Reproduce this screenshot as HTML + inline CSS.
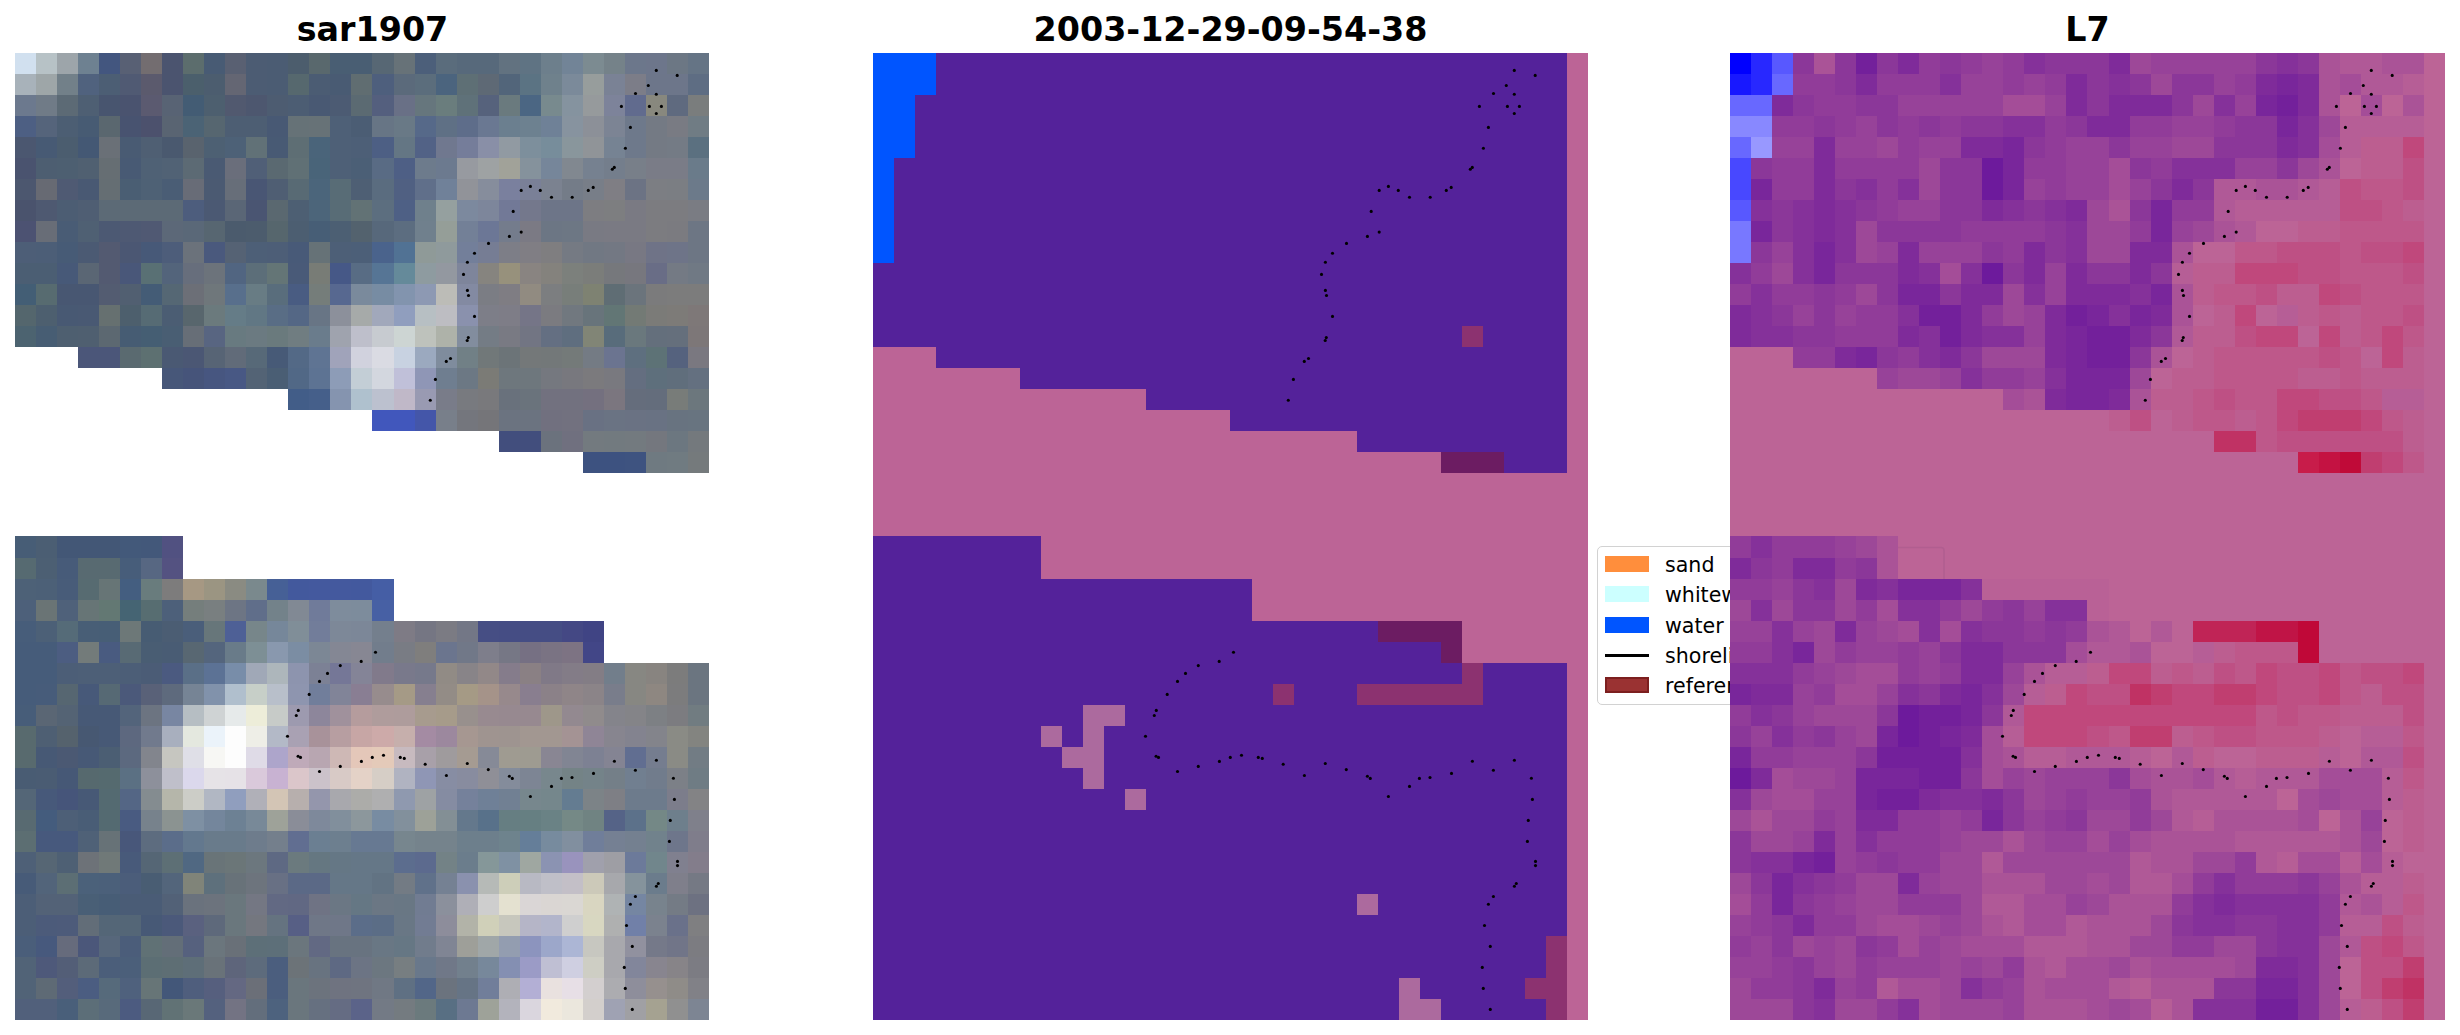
<!DOCTYPE html>
<html><head><meta charset="utf-8"><title>sar1907</title>
<style>
html,body{margin:0;padding:0;background:#fff}
body{width:2460px;height:1035px;position:relative;overflow:hidden;font-family:"DejaVu Sans","Liberation Sans",sans-serif;color:#000}
.ax{position:absolute;display:block}
.t{position:absolute;top:10px;width:715px;text-align:center;font-weight:bold;font-size:33.33px;line-height:40px;white-space:nowrap}
.lg{position:absolute;left:1597.3px;top:546.3px;width:345.5px;height:156.5px;border:1.6px solid #d2d2d2;border-radius:5px;background:#fff;box-sizing:content-box}
.lt{position:absolute;left:1665px;font-size:20.6px;line-height:30px;white-space:nowrap}
.lp{position:absolute;left:1605px;width:44px;height:16px;display:block}
</style></head><body>
<div class="t" style="left:15px">sar1907</div>
<div class="t" style="left:873px">2003-12-29-09-54-38</div>
<div class="t" style="left:1730px">L7</div>
<div class="lg"></div>
<i class="lp" style="top:556px;background:#ff8e3c"></i><div class="lt" style="top:550px">sand</div>
<i class="lp" style="top:586px;background:#ccffff"></i><div class="lt" style="top:580px">whitewater</div>
<i class="lp" style="top:617px;background:#0055ff"></i><div class="lt" style="top:611px">water</div>
<i class="lp" style="top:654px;height:3px;background:#000"></i><div class="lt" style="top:641px">shoreline</div>
<i class="lp" style="top:677px;background:#9a3232;box-sizing:border-box;border:2px solid #7c1f1f"></i><div class="lt" style="top:671px">reference shoreline</div>
<svg class="ax" style="left:15px;top:53px" width="715" height="967" viewBox="0 0 715 967" shape-rendering="crispEdges">
<path fill="#d1e0ef" d="M0 0h21v21H0z"/>
<path fill="#b7c2c6" d="M21 0h21v21H21z"/>
<path fill="#9da5aa" d="M42 0h21v21H42z"/>
<path fill="#6e8191" d="M63 0h21v21H63z"/>
<path fill="#43567f" d="M84 0h21v21H84z"/>
<path fill="#586074" d="M105 0h21v21H105z"/>
<path fill="#736d70" d="M126 0h21v21H126z"/>
<path fill="#4b546f" d="M147 0h21v21H147zM147 21h21v21H147z"/>
<path fill="#5c6d6d" d="M168 0h21v21H168z"/>
<path fill="#485b74" d="M189 0h21v21H189z"/>
<path fill="#596072" d="M210 0h21v21H210z"/>
<path fill="#4c5c73" d="M231 0h21v21H231zM231 21h21v21H231z"/>
<path fill="#4b5c73" d="M252 0h21v21H252zM252 21h21v21H252zM294 21h21v21H294z"/>
<path fill="#4c5d6d" d="M273 0h21v21H273z"/>
<path fill="#59686d" d="M294 0h21v21H294z"/>
<path fill="#495e73" d="M315 0h42v21H315zM147 273h21v21H147z"/>
<path fill="#576774" d="M357 0h22v21H357z"/>
<path fill="#677278" d="M379 0h21v21H379z"/>
<path fill="#4c5f7a" d="M400 0h21v21H400z"/>
<path fill="#5a6c7c" d="M421 0h21v21H421z"/>
<path fill="#57697b" d="M442 0h42v21H442z"/>
<path fill="#627280" d="M484 0h21v21H484z"/>
<path fill="#5f7383" d="M505 0h21v21H505z"/>
<path fill="#6d7f8c" d="M526 0h21v21H526zM442 778h42v21H442z"/>
<path fill="#728497" d="M547 0h21v21H547z"/>
<path fill="#7c8b91" d="M568 0h21v21H568z"/>
<path fill="#758289" d="M589 0h21v21H589z"/>
<path fill="#6c778b" d="M610 0h21v21H610z"/>
<path fill="#6d768b" d="M631 0h21v21H631z"/>
<path fill="#6c7784" d="M652 0h21v21H652z"/>
<path fill="#657485" d="M673 0h21v21H673z"/>
<path fill="#a8b2ba" d="M0 21h21v21H0z"/>
<path fill="#9ea6a8" d="M21 21h21v21H21z"/>
<path fill="#728089" d="M42 21h21v21H42z"/>
<path fill="#50627e" d="M63 21h21v21H63z"/>
<path fill="#4c5e74" d="M84 21h21v21H84z"/>
<path fill="#505a73" d="M105 21h21v21H105z"/>
<path fill="#5b5a6d" d="M126 21h21v21H126z"/>
<path fill="#4b5f6c" d="M168 21h21v21H168z"/>
<path fill="#4c5d6f" d="M189 21h21v21H189z"/>
<path fill="#646673" d="M210 21h21v21H210z"/>
<path fill="#56686e" d="M273 21h21v21H273z"/>
<path fill="#495b73" d="M315 21h21v21H315zM105 84h21v21H105z"/>
<path fill="#606d71" d="M336 21h21v21H336z"/>
<path fill="#4e5f7d" d="M357 21h22v21H357z"/>
<path fill="#5b6a7b" d="M379 21h21v21H379z"/>
<path fill="#5b6d7c" d="M400 21h21v21H400z"/>
<path fill="#4b647e" d="M421 21h21v21H421z"/>
<path fill="#5e6f75" d="M442 21h21v21H442z"/>
<path fill="#5e6975" d="M463 21h21v21H463z"/>
<path fill="#52657a" d="M484 21h21v21H484z"/>
<path fill="#5b7383" d="M505 21h21v21H505z"/>
<path fill="#6f818c" d="M526 21h21v21H526z"/>
<path fill="#7b8a9a" d="M547 21h21v21H547z"/>
<path fill="#979d9c" d="M568 21h21v21H568z"/>
<path fill="#7a8295" d="M589 21h21v21H589z"/>
<path fill="#7c7d88" d="M610 21h21v21H610z"/>
<path fill="#6d768a" d="M631 21h42v21H631z"/>
<path fill="#5e6d83" d="M673 21h21v21H673z"/>
<path fill="#6c798e" d="M0 42h21v21H0z"/>
<path fill="#707b87" d="M21 42h21v21H21z"/>
<path fill="#5c6a75" d="M42 42h21v21H42z"/>
<path fill="#4e5f73" d="M63 42h21v21H63zM21 673h21v21H21z"/>
<path fill="#48556f" d="M84 42h21v21H84z"/>
<path fill="#4a536f" d="M105 42h21v21H105zM0 105h21v21H0z"/>
<path fill="#5b5a70" d="M126 42h21v21H126z"/>
<path fill="#586374" d="M147 42h21v21H147z"/>
<path fill="#435c74" d="M168 42h21v21H168z"/>
<path fill="#4d5f6f" d="M189 42h21v21H189zM21 252h21v21H21z"/>
<path fill="#51596f" d="M210 42h21v21H210z"/>
<path fill="#4d576f" d="M231 42h21v21H231z"/>
<path fill="#4d5c71" d="M252 42h21v21H252z"/>
<path fill="#4c5d73" d="M273 42h21v21H273zM42 147h21v21H42z"/>
<path fill="#495973" d="M294 42h21v21H294zM63 126h21v21H63zM63 252h21v21H63z"/>
<path fill="#4c5b73" d="M315 42h21v21H315z"/>
<path fill="#5b6a72" d="M336 42h21v21H336z"/>
<path fill="#545f7e" d="M357 42h22v21H357z"/>
<path fill="#697086" d="M379 42h21v21H379z"/>
<path fill="#66767d" d="M400 42h21v21H400z"/>
<path fill="#6a7d7d" d="M421 42h21v21H421z"/>
<path fill="#5f7179" d="M442 42h21v21H442z"/>
<path fill="#56627c" d="M463 42h21v21H463z"/>
<path fill="#6a7a7e" d="M484 42h21v21H484z"/>
<path fill="#4b6683" d="M505 42h21v21H505z"/>
<path fill="#788a8e" d="M526 42h21v21H526z"/>
<path fill="#85939f" d="M547 42h21v21H547z"/>
<path fill="#969a9c" d="M568 42h21v21H568z"/>
<path fill="#7d839a" d="M589 42h21v21H589z"/>
<path fill="#616b8e" d="M610 42h21v21H610z"/>
<path fill="#88887e" d="M631 42h21v21H631z"/>
<path fill="#5f6a7f" d="M652 42h21v21H652z"/>
<path fill="#7a7d7d" d="M673 42h21v21H673z"/>
<path fill="#4d5f83" d="M0 63h21v21H0z"/>
<path fill="#55647b" d="M21 63h21v21H21z"/>
<path fill="#4c5e73" d="M42 63h21v21H42z"/>
<path fill="#475b73" d="M63 63h21v21H63z"/>
<path fill="#5a676f" d="M84 63h21v21H84z"/>
<path fill="#485370" d="M105 63h21v21H105z"/>
<path fill="#4c516d" d="M126 63h21v21H126z"/>
<path fill="#596472" d="M147 63h21v21H147z"/>
<path fill="#4b6375" d="M168 63h21v21H168z"/>
<path fill="#566670" d="M189 63h21v21H189z"/>
<path fill="#4d5e73" d="M210 63h42v21H210z"/>
<path fill="#485974" d="M252 63h21v21H252z"/>
<path fill="#667277" d="M273 63h21v21H273zM294 189h21v21H294z"/>
<path fill="#677277" d="M294 63h21v21H294zM84 778h21v21H84z"/>
<path fill="#4e6077" d="M315 63h21v21H315zM315 84h21v21H315zM315 105h21v21H315zM0 799h21v21H0z"/>
<path fill="#4b5d74" d="M336 63h21v21H336z"/>
<path fill="#677585" d="M357 63h22v21H357z"/>
<path fill="#697986" d="M379 63h21v21H379z"/>
<path fill="#566989" d="M400 63h21v21H400z"/>
<path fill="#5f7085" d="M421 63h21v21H421z"/>
<path fill="#5e6d8a" d="M442 63h21v21H442z"/>
<path fill="#6a7892" d="M463 63h21v21H463z"/>
<path fill="#6b7f8f" d="M484 63h21v21H484z"/>
<path fill="#6d8190" d="M505 63h21v21H505z"/>
<path fill="#6f8197" d="M526 63h21v21H526z"/>
<path fill="#87939f" d="M547 63h21v21H547z"/>
<path fill="#8c9098" d="M568 63h21v21H568z"/>
<path fill="#7c8494" d="M589 63h21v21H589z"/>
<path fill="#6e798b" d="M610 63h21v21H610zM610 84h21v21H610z"/>
<path fill="#747a84" d="M631 63h21v21H631zM631 84h21v21H631zM652 210h21v21H652z"/>
<path fill="#797b83" d="M652 63h21v21H652z"/>
<path fill="#707c84" d="M673 63h21v21H673z"/>
<path fill="#4b5770" d="M0 84h21v21H0z"/>
<path fill="#475a74" d="M21 84h21v21H21z"/>
<path fill="#4b5d6f" d="M42 84h21v21H42z"/>
<path fill="#445874" d="M63 84h21v21H63z"/>
<path fill="#6a7077" d="M84 84h21v21H84z"/>
<path fill="#4f5f73" d="M126 84h21v21H126z"/>
<path fill="#4a596f" d="M147 84h21v21H147z"/>
<path fill="#59636e" d="M168 84h21v21H168z"/>
<path fill="#4d6073" d="M189 84h21v21H189z"/>
<path fill="#4d6177" d="M210 84h21v21H210zM0 526h21v21H0z"/>
<path fill="#617177" d="M231 84h21v21H231z"/>
<path fill="#485a74" d="M252 84h21v21H252zM105 105h21v21H105z"/>
<path fill="#5e6e74" d="M273 84h21v21H273zM147 904h21v21H147z"/>
<path fill="#4a647a" d="M294 84h21v21H294z"/>
<path fill="#4d5f77" d="M336 84h21v21H336zM231 189h21v21H231zM315 189h21v21H315zM63 610h42v21H63zM42 757h21v21H42z"/>
<path fill="#4d5f84" d="M357 84h22v21H357z"/>
<path fill="#647684" d="M379 84h21v21H379z"/>
<path fill="#526286" d="M400 84h21v21H400z"/>
<path fill="#70788f" d="M421 84h21v21H421z"/>
<path fill="#757d9a" d="M442 84h21v21H442z"/>
<path fill="#898fa7" d="M463 84h21v21H463z"/>
<path fill="#919aa2" d="M484 84h21v21H484z"/>
<path fill="#7d8f9c" d="M505 84h21v21H505z"/>
<path fill="#778d9b" d="M526 84h21v21H526z"/>
<path fill="#89969c" d="M547 84h21v21H547z"/>
<path fill="#909498" d="M568 84h21v21H568z"/>
<path fill="#768393" d="M589 84h21v21H589z"/>
<path fill="#747b85" d="M652 84h21v21H652zM652 841h21v21H652z"/>
<path fill="#5b7080" d="M673 84h21v21H673z"/>
<path fill="#4d5e71" d="M21 105h21v21H21z"/>
<path fill="#4d5f71" d="M42 105h21v21H42z"/>
<path fill="#506071" d="M63 105h21v21H63z"/>
<path fill="#666e73" d="M84 105h21v21H84z"/>
<path fill="#4f6175" d="M126 105h21v21H126z"/>
<path fill="#516275" d="M147 105h21v21H147z"/>
<path fill="#5c6a74" d="M168 105h21v21H168z"/>
<path fill="#4a5a73" d="M189 105h21v21H189z"/>
<path fill="#6a6e7b" d="M210 105h21v21H210z"/>
<path fill="#505f77" d="M231 105h21v21H231z"/>
<path fill="#5a6971" d="M252 105h21v21H252z"/>
<path fill="#607075" d="M273 105h21v21H273z"/>
<path fill="#496479" d="M294 105h21v21H294z"/>
<path fill="#4b5f76" d="M336 105h21v21H336z"/>
<path fill="#596b84" d="M357 105h22v21H357z"/>
<path fill="#4e5f85" d="M379 105h21v21H379z"/>
<path fill="#6d7b8c" d="M400 105h21v21H400zM610 736h42v21H610z"/>
<path fill="#6c7a8f" d="M421 105h21v21H421z"/>
<path fill="#979aa0" d="M442 105h21v21H442z"/>
<path fill="#9ea2a3" d="M463 105h21v21H463z"/>
<path fill="#a1a299" d="M484 105h21v21H484z"/>
<path fill="#85929c" d="M505 105h21v21H505z"/>
<path fill="#76869a" d="M526 105h21v21H526z"/>
<path fill="#818890" d="M547 105h21v21H547z"/>
<path fill="#768190" d="M568 105h21v21H568z"/>
<path fill="#747e8c" d="M589 105h21v21H589z"/>
<path fill="#787f89" d="M610 105h21v21H610z"/>
<path fill="#7a7c87" d="M631 105h42v21H631z"/>
<path fill="#6a7b8a" d="M673 105h21v21H673z"/>
<path fill="#4c576f" d="M0 126h21v21H0z"/>
<path fill="#676a73" d="M21 126h21v21H21z"/>
<path fill="#4f5a73" d="M42 126h21v21H42z"/>
<path fill="#656e73" d="M84 126h21v21H84z"/>
<path fill="#4a5e73" d="M105 126h21v21H105z"/>
<path fill="#4e6175" d="M126 126h21v21H126z"/>
<path fill="#4a5d75" d="M147 126h21v21H147z"/>
<path fill="#686c77" d="M168 126h21v21H168z"/>
<path fill="#4b5a72" d="M189 126h21v21H189z"/>
<path fill="#676e79" d="M210 126h21v21H210z"/>
<path fill="#495674" d="M231 126h21v21H231z"/>
<path fill="#4f5e73" d="M252 126h21v21H252zM63 147h21v21H63z"/>
<path fill="#586a74" d="M273 126h21v21H273zM105 589h21v21H105z"/>
<path fill="#4b657b" d="M294 126h21v21H294z"/>
<path fill="#586c76" d="M315 126h21v21H315zM315 147h21v21H315z"/>
<path fill="#4e5f74" d="M336 126h21v21H336z"/>
<path fill="#5a6c7f" d="M357 126h22v21H357z"/>
<path fill="#506082" d="M379 126h21v21H379z"/>
<path fill="#606f8a" d="M400 126h21v21H400z"/>
<path fill="#708199" d="M421 126h21v21H421z"/>
<path fill="#919399" d="M442 126h21v21H442z"/>
<path fill="#868d9c" d="M463 126h21v21H463z"/>
<path fill="#7a809e" d="M484 126h21v21H484z"/>
<path fill="#7a8097" d="M505 126h21v21H505z"/>
<path fill="#7b8290" d="M526 126h21v21H526z"/>
<path fill="#747c88" d="M547 126h21v21H547z"/>
<path fill="#787e88" d="M568 126h21v21H568z"/>
<path fill="#7f7e84" d="M589 126h21v21H589z"/>
<path fill="#6c7384" d="M610 126h21v21H610z"/>
<path fill="#7c7e83" d="M631 126h21v21H631z"/>
<path fill="#7b7e83" d="M652 126h21v21H652z"/>
<path fill="#6c7a8a" d="M673 126h21v21H673z"/>
<path fill="#4a536d" d="M0 147h21v21H0z"/>
<path fill="#4e5971" d="M21 147h21v21H21z"/>
<path fill="#5c6a76" d="M84 147h84v21H84z"/>
<path fill="#4d5d7d" d="M168 147h21v21H168z"/>
<path fill="#4b5973" d="M189 147h21v21H189zM42 694h21v21H42z"/>
<path fill="#5a6676" d="M210 147h21v21H210z"/>
<path fill="#4a5572" d="M231 147h21v21H231z"/>
<path fill="#5a6870" d="M252 147h21v21H252z"/>
<path fill="#4d5f73" d="M273 147h21v21H273z"/>
<path fill="#4c657a" d="M294 147h21v21H294z"/>
<path fill="#627275" d="M336 147h21v21H336z"/>
<path fill="#5c6e7f" d="M357 147h22v21H357z"/>
<path fill="#4e6085" d="M379 147h21v21H379z"/>
<path fill="#6f808c" d="M400 147h21v21H400z"/>
<path fill="#95a09f" d="M421 147h21v21H421z"/>
<path fill="#7c899e" d="M442 147h21v21H442z"/>
<path fill="#7d869b" d="M463 147h21v21H463z"/>
<path fill="#727997" d="M484 147h21v21H484z"/>
<path fill="#74788c" d="M505 147h21v21H505z"/>
<path fill="#6d7588" d="M526 147h42v21H526z"/>
<path fill="#7d7d81" d="M568 147h21v21H568z"/>
<path fill="#7d7e80" d="M589 147h21v21H589z"/>
<path fill="#7a7a83" d="M610 147h21v21H610zM589 168h42v21H589z"/>
<path fill="#7c7c80" d="M631 147h42v21H631zM631 168h21v21H631zM652 652h21v21H652z"/>
<path fill="#7a7c83" d="M673 147h21v21H673z"/>
<path fill="#4c5272" d="M0 168h21v21H0z"/>
<path fill="#686d77" d="M21 168h21v21H21z"/>
<path fill="#495c75" d="M42 168h21v21H42z"/>
<path fill="#4f6073" d="M63 168h21v21H63z"/>
<path fill="#4c5973" d="M84 168h21v21H84z"/>
<path fill="#4e5973" d="M105 168h21v21H105z"/>
<path fill="#505973" d="M126 168h21v21H126z"/>
<path fill="#5c6878" d="M147 168h21v21H147z"/>
<path fill="#5a6878" d="M168 168h21v21H168z"/>
<path fill="#576671" d="M189 168h21v21H189z"/>
<path fill="#4b5b6d" d="M210 168h21v21H210z"/>
<path fill="#4c5c6d" d="M231 168h21v21H231z"/>
<path fill="#56666d" d="M252 168h21v21H252z"/>
<path fill="#4c5e71" d="M273 168h21v21H273z"/>
<path fill="#475e76" d="M294 168h21v21H294zM84 568h21v21H84z"/>
<path fill="#4c5f73" d="M315 168h21v21H315zM21 505h21v21H21z"/>
<path fill="#53626e" d="M336 168h21v21H336z"/>
<path fill="#57687b" d="M357 168h22v21H357z"/>
<path fill="#5c6d80" d="M379 168h21v21H379z"/>
<path fill="#70808d" d="M400 168h21v21H400z"/>
<path fill="#959e98" d="M421 168h21v21H421z"/>
<path fill="#738097" d="M442 168h21v21H442z"/>
<path fill="#6c7796" d="M463 168h21v21H463z"/>
<path fill="#747c8c" d="M484 168h21v21H484z"/>
<path fill="#7b7a84" d="M505 168h21v21H505z"/>
<path fill="#6c7684" d="M526 168h21v21H526z"/>
<path fill="#6d7784" d="M547 168h21v21H547z"/>
<path fill="#797a83" d="M568 168h21v21H568zM484 273h21v21H484z"/>
<path fill="#7b7b80" d="M652 168h21v21H652zM526 252h21v21H526z"/>
<path fill="#6d7684" d="M673 168h21v21H673zM673 189h21v21H673z"/>
<path fill="#4d5e77" d="M0 189h21v21H0zM252 189h21v21H252z"/>
<path fill="#4c5e77" d="M21 189h21v21H21zM42 610h21v21H42zM105 610h21v21H105zM0 841h21v21H0zM0 862h21v21H0z"/>
<path fill="#475b76" d="M42 189h21v21H42z"/>
<path fill="#4b5a73" d="M63 189h21v21H63z"/>
<path fill="#535a71" d="M84 189h21v21H84zM84 210h21v21H84z"/>
<path fill="#4b5773" d="M105 189h21v21H105z"/>
<path fill="#475978" d="M126 189h21v21H126zM42 210h21v21H42z"/>
<path fill="#4d5d7a" d="M147 189h21v21H147z"/>
<path fill="#6b727b" d="M168 189h21v21H168z"/>
<path fill="#4a597d" d="M189 189h21v21H189z"/>
<path fill="#556274" d="M210 189h21v21H210z"/>
<path fill="#485a78" d="M273 189h21v21H273z"/>
<path fill="#4c5f78" d="M336 189h21v21H336z"/>
<path fill="#4a638c" d="M357 189h22v21H357z"/>
<path fill="#517294" d="M379 189h21v21H379z"/>
<path fill="#8f9a98" d="M400 189h21v21H400z"/>
<path fill="#8f9a9c" d="M421 189h21v21H421z"/>
<path fill="#737f9a" d="M442 189h21v21H442z"/>
<path fill="#767d94" d="M463 189h21v21H463z"/>
<path fill="#7d7e87" d="M484 189h21v21H484z"/>
<path fill="#807e84" d="M505 189h21v21H505z"/>
<path fill="#7f7e80" d="M526 189h21v21H526z"/>
<path fill="#757a83" d="M547 189h21v21H547z"/>
<path fill="#717883" d="M568 189h21v21H568z"/>
<path fill="#737883" d="M589 189h21v21H589z"/>
<path fill="#787883" d="M610 189h21v21H610z"/>
<path fill="#6f7387" d="M631 189h21v21H631z"/>
<path fill="#6e7488" d="M652 189h21v21H652z"/>
<path fill="#4b5e73" d="M0 210h42v21H0zM21 483h21v22H21zM84 694h21v21H84z"/>
<path fill="#5a6674" d="M63 210h21v21H63zM21 652h21v21H21z"/>
<path fill="#495779" d="M105 210h21v21H105z"/>
<path fill="#597074" d="M126 210h21v21H126z"/>
<path fill="#53647b" d="M147 210h21v21H147zM105 652h21v21H105z"/>
<path fill="#676e7c" d="M168 210h21v21H168z"/>
<path fill="#6c737b" d="M189 210h21v21H189z"/>
<path fill="#516581" d="M210 210h21v21H210z"/>
<path fill="#5c6e79" d="M231 210h21v21H231z"/>
<path fill="#647576" d="M252 210h21v21H252z"/>
<path fill="#495a78" d="M273 210h21v21H273z"/>
<path fill="#787c76" d="M294 210h21v21H294z"/>
<path fill="#465887" d="M315 210h21v21H315z"/>
<path fill="#586c84" d="M336 210h21v21H336z"/>
<path fill="#567595" d="M357 210h22v21H357z"/>
<path fill="#658a9a" d="M379 210h21v21H379z"/>
<path fill="#8e9ba0" d="M400 210h21v21H400z"/>
<path fill="#9398a0" d="M421 210h21v21H421z"/>
<path fill="#7e859b" d="M442 210h21v21H442z"/>
<path fill="#86847f" d="M463 210h21v21H463z"/>
<path fill="#97917c" d="M484 210h21v21H484z"/>
<path fill="#898481" d="M505 210h21v21H505z"/>
<path fill="#84827d" d="M526 210h21v21H526z"/>
<path fill="#7c807c" d="M547 210h21v21H547z"/>
<path fill="#7b7d7a" d="M568 210h21v21H568z"/>
<path fill="#76787c" d="M589 210h21v21H589z"/>
<path fill="#77777e" d="M610 210h21v21H610z"/>
<path fill="#696d86" d="M631 210h21v21H631z"/>
<path fill="#707984" d="M673 210h21v21H673z"/>
<path fill="#435e75" d="M0 231h21v21H0z"/>
<path fill="#576b70" d="M21 231h21v21H21z"/>
<path fill="#485772" d="M42 231h42v21H42z"/>
<path fill="#535c71" d="M84 231h21v21H84z"/>
<path fill="#515f71" d="M105 231h21v21H105z"/>
<path fill="#445c76" d="M126 231h21v21H126z"/>
<path fill="#556774" d="M147 231h21v21H147z"/>
<path fill="#6c6f77" d="M168 231h21v21H168z"/>
<path fill="#6f777b" d="M189 231h21v21H189z"/>
<path fill="#586f8c" d="M210 231h21v21H210z"/>
<path fill="#687c84" d="M231 231h21v21H231z"/>
<path fill="#596d7c" d="M252 231h21v21H252z"/>
<path fill="#495c82" d="M273 231h21v21H273z"/>
<path fill="#757d7a" d="M294 231h21v21H294z"/>
<path fill="#576890" d="M315 231h21v21H315z"/>
<path fill="#7a8a9c" d="M336 231h21v21H336z"/>
<path fill="#778ca3" d="M357 231h22v21H357z"/>
<path fill="#8294ae" d="M379 231h21v21H379z"/>
<path fill="#8d99b3" d="M400 231h21v21H400z"/>
<path fill="#bcbcb7" d="M421 231h21v21H421z"/>
<path fill="#838aa2" d="M442 231h21v21H442z"/>
<path fill="#7b7d84" d="M463 231h21v21H463z"/>
<path fill="#7f7d83" d="M484 231h21v21H484z"/>
<path fill="#918b81" d="M505 231h21v21H505z"/>
<path fill="#7c7e80" d="M526 231h21v21H526z"/>
<path fill="#787e7a" d="M547 231h21v21H547z"/>
<path fill="#7e8272" d="M568 231h21v21H568z"/>
<path fill="#5f6d74" d="M589 231h21v21H589z"/>
<path fill="#6b747c" d="M610 231h21v21H610z"/>
<path fill="#7b7b7c" d="M631 231h21v21H631z"/>
<path fill="#7c7c7c" d="M652 231h42v21H652zM652 610h21v21H652z"/>
<path fill="#54666d" d="M0 252h21v21H0z"/>
<path fill="#485973" d="M42 252h21v21H42z"/>
<path fill="#667070" d="M84 252h21v21H84z"/>
<path fill="#4d5f6d" d="M105 252h21v21H105z"/>
<path fill="#566b74" d="M126 252h21v21H126z"/>
<path fill="#4b5d73" d="M147 252h21v21H147zM147 568h21v21H147z"/>
<path fill="#58666d" d="M168 252h21v21H168z"/>
<path fill="#6b7a7d" d="M189 252h21v21H189zM400 946h21v21H400z"/>
<path fill="#657c87" d="M210 252h21v21H210z"/>
<path fill="#617784" d="M231 252h21v21H231z"/>
<path fill="#596d85" d="M252 252h21v21H252z"/>
<path fill="#546785" d="M273 252h21v21H273z"/>
<path fill="#687585" d="M294 252h21v21H294z"/>
<path fill="#8c909b" d="M315 252h21v21H315z"/>
<path fill="#a6aaa9" d="M336 252h21v21H336z"/>
<path fill="#a1a8bb" d="M357 252h22v21H357z"/>
<path fill="#909ebe" d="M379 252h21v21H379zM210 736h21v21H210z"/>
<path fill="#b7bfc3" d="M400 252h21v21H400z"/>
<path fill="#bdbdc2" d="M421 252h21v21H421z"/>
<path fill="#8a91ad" d="M442 252h21v21H442z"/>
<path fill="#7d7e88" d="M463 252h21v21H463z"/>
<path fill="#7e7d87" d="M484 252h21v21H484z"/>
<path fill="#757587" d="M505 252h21v21H505z"/>
<path fill="#71787f" d="M547 252h21v21H547z"/>
<path fill="#68747b" d="M568 252h21v21H568z"/>
<path fill="#627675" d="M589 252h21v21H589z"/>
<path fill="#737a75" d="M610 252h21v21H610z"/>
<path fill="#7b7b78" d="M631 252h21v21H631z"/>
<path fill="#7d7b78" d="M652 252h21v21H652z"/>
<path fill="#7e7878" d="M673 252h21v21H673z"/>
<path fill="#4c6370" d="M0 273h21v21H0z"/>
<path fill="#475d73" d="M21 273h21v21H21z"/>
<path fill="#4e5f70" d="M42 273h21v21H42z"/>
<path fill="#4f5f70" d="M63 273h21v21H63z"/>
<path fill="#5c6871" d="M84 273h21v21H84z"/>
<path fill="#465c73" d="M105 273h21v21H105z"/>
<path fill="#455e73" d="M126 273h21v21H126z"/>
<path fill="#676e77" d="M168 273h21v21H168z"/>
<path fill="#586581" d="M189 273h21v21H189z"/>
<path fill="#687a80" d="M210 273h21v21H210z"/>
<path fill="#6b7a81" d="M231 273h21v21H231z"/>
<path fill="#6a7a7d" d="M252 273h21v21H252z"/>
<path fill="#707d81" d="M273 273h21v21H273z"/>
<path fill="#6a7c8c" d="M294 273h21v21H294z"/>
<path fill="#9fa3ae" d="M315 273h21v21H315z"/>
<path fill="#bebfcb" d="M336 273h21v21H336z"/>
<path fill="#c7cbd0" d="M357 273h22v21H357z"/>
<path fill="#cdd5d3" d="M379 273h21v21H379z"/>
<path fill="#bec2bc" d="M400 273h21v21H400z"/>
<path fill="#aeb2a9" d="M421 273h21v21H421z"/>
<path fill="#828d9e" d="M442 273h21v21H442z"/>
<path fill="#747c85" d="M463 273h21v21H463z"/>
<path fill="#727583" d="M505 273h21v21H505z"/>
<path fill="#646f82" d="M526 273h21v21H526z"/>
<path fill="#5f6e7f" d="M547 273h21v21H547z"/>
<path fill="#818576" d="M568 273h21v21H568z"/>
<path fill="#586c7b" d="M589 273h21v21H589z"/>
<path fill="#6a787d" d="M610 273h21v21H610z"/>
<path fill="#646f7c" d="M631 273h21v21H631z"/>
<path fill="#656f7c" d="M652 273h21v21H652z"/>
<path fill="#7d7778" d="M673 273h21v21H673z"/>
<path fill="#4b5679" d="M63 294h42v21H63z"/>
<path fill="#5a6a70" d="M105 294h21v21H105z"/>
<path fill="#5d7071" d="M126 294h21v21H126z"/>
<path fill="#4a5973" d="M147 294h21v21H147z"/>
<path fill="#4b5774" d="M168 294h21v21H168z"/>
<path fill="#576475" d="M189 294h21v21H189z"/>
<path fill="#616b79" d="M210 294h21v21H210z"/>
<path fill="#576978" d="M231 294h21v21H231z"/>
<path fill="#475a77" d="M252 294h21v21H252z"/>
<path fill="#536986" d="M273 294h21v21H273z"/>
<path fill="#5f7493" d="M294 294h21v21H294z"/>
<path fill="#a0a3ba" d="M315 294h21v21H315z"/>
<path fill="#d1d2de" d="M336 294h21v21H336z"/>
<path fill="#dadbe3" d="M357 294h22v21H357z"/>
<path fill="#c8d2e1" d="M379 294h21v21H379z"/>
<path fill="#9ba9bf" d="M400 294h21v21H400z"/>
<path fill="#7f8c9d" d="M421 294h21v21H421z"/>
<path fill="#718086" d="M442 294h21v21H442z"/>
<path fill="#717879" d="M463 294h21v21H463z"/>
<path fill="#6c7478" d="M484 294h21v21H484z"/>
<path fill="#747879" d="M505 294h21v21H505z"/>
<path fill="#737879" d="M526 294h21v21H526z"/>
<path fill="#747a79" d="M547 294h21v21H547z"/>
<path fill="#747b84" d="M568 294h21v21H568z"/>
<path fill="#6b7490" d="M589 294h21v21H589z"/>
<path fill="#5e6f7f" d="M610 294h21v21H610z"/>
<path fill="#5d7276" d="M631 294h21v21H631z"/>
<path fill="#55627e" d="M652 294h21v21H652z"/>
<path fill="#7a7880" d="M673 294h21v21H673z"/>
<path fill="#475779" d="M147 315h21v21H147z"/>
<path fill="#46547a" d="M168 315h21v21H168z"/>
<path fill="#475680" d="M189 315h21v21H189z"/>
<path fill="#485884" d="M210 315h21v21H210z"/>
<path fill="#536375" d="M231 315h21v21H231z"/>
<path fill="#4a5e74" d="M252 315h21v21H252z"/>
<path fill="#516886" d="M273 315h21v21H273z"/>
<path fill="#5d7393" d="M294 315h21v21H294z"/>
<path fill="#8d9cb7" d="M315 315h21v21H315z"/>
<path fill="#c3ced6" d="M336 315h21v21H336z"/>
<path fill="#d3d7df" d="M357 315h22v21H357z"/>
<path fill="#c0c0d9" d="M379 315h21v21H379z"/>
<path fill="#8f96b6" d="M400 315h21v21H400z"/>
<path fill="#6f7e90" d="M421 315h21v21H421z"/>
<path fill="#6c7884" d="M442 315h21v21H442z"/>
<path fill="#7b7b76" d="M463 315h21v21H463z"/>
<path fill="#6e777d" d="M484 315h42v21H484z"/>
<path fill="#75787f" d="M526 315h21v21H526z"/>
<path fill="#78787e" d="M547 315h21v21H547z"/>
<path fill="#7b7a7d" d="M568 315h21v21H568z"/>
<path fill="#79797f" d="M589 315h21v21H589z"/>
<path fill="#646e80" d="M610 315h21v21H610z"/>
<path fill="#5e6f7c" d="M631 315h21v21H631z"/>
<path fill="#606e7c" d="M652 315h21v21H652z"/>
<path fill="#647080" d="M673 315h21v21H673z"/>
<path fill="#425d88" d="M273 336h21v21H273z"/>
<path fill="#455f8a" d="M294 336h21v21H294z"/>
<path fill="#8594af" d="M315 336h21v21H315z"/>
<path fill="#afc1ce" d="M336 336h21v21H336z"/>
<path fill="#bcc1cf" d="M357 336h22v21H357z"/>
<path fill="#c0b8c8" d="M379 336h21v21H379z"/>
<path fill="#999ab2" d="M400 336h21v21H400z"/>
<path fill="#797c89" d="M421 336h21v21H421z"/>
<path fill="#787a7f" d="M442 336h21v21H442z"/>
<path fill="#79797c" d="M463 336h21v21H463z"/>
<path fill="#69717c" d="M484 336h21v21H484z"/>
<path fill="#6a737c" d="M505 336h21v21H505z"/>
<path fill="#72717f" d="M526 336h42v21H526zM547 357h21v21H547z"/>
<path fill="#74707f" d="M568 336h21v21H568z"/>
<path fill="#7b767f" d="M589 336h21v21H589z"/>
<path fill="#656d7c" d="M610 336h21v21H610z"/>
<path fill="#646d7c" d="M631 336h21v21H631z"/>
<path fill="#787c79" d="M652 336h21v21H652z"/>
<path fill="#6c777d" d="M673 336h21v21H673z"/>
<path fill="#4157bc" d="M357 357h43v21H357z"/>
<path fill="#4456a9" d="M400 357h21v21H400z"/>
<path fill="#787f8a" d="M421 357h21v21H421z"/>
<path fill="#74767d" d="M442 357h21v21H442z"/>
<path fill="#757579" d="M463 357h21v21H463z"/>
<path fill="#6b7380" d="M484 357h42v21H484z"/>
<path fill="#71707f" d="M526 357h21v21H526z"/>
<path fill="#697183" d="M568 357h21v21H568z"/>
<path fill="#6a7383" d="M589 357h21v21H589z"/>
<path fill="#6a7283" d="M610 357h21v21H610z"/>
<path fill="#697283" d="M631 357h21v21H631z"/>
<path fill="#687380" d="M652 357h21v21H652zM315 883h42v21H315zM294 904h21v21H294z"/>
<path fill="#687480" d="M673 357h21v21H673z"/>
<path fill="#424e7d" d="M484 378h42v21H484z"/>
<path fill="#6b727d" d="M526 378h21v21H526z"/>
<path fill="#70707f" d="M547 378h21v21H547z"/>
<path fill="#737a7f" d="M568 378h21v21H568zM610 378h21v21H610z"/>
<path fill="#727a7f" d="M589 378h21v21H589z"/>
<path fill="#74777e" d="M631 378h21v21H631z"/>
<path fill="#6c7780" d="M652 378h21v21H652zM357 904h22v21H357z"/>
<path fill="#74797d" d="M673 378h21v21H673z"/>
<path fill="#3d5280" d="M568 399h42v21H568z"/>
<path fill="#3e5380" d="M610 399h21v21H610z"/>
<path fill="#6f7a81" d="M631 399h21v21H631z"/>
<path fill="#707b81" d="M652 399h21v21H652z"/>
<path fill="#757a7c" d="M673 399h21v21H673z"/>
<path fill="#475d76" d="M0 483h21v22H0zM84 841h21v21H84z"/>
<path fill="#435776" d="M42 483h63v22H42z"/>
<path fill="#43597a" d="M105 483h21v22H105z"/>
<path fill="#43587a" d="M126 483h21v22H126z"/>
<path fill="#515181" d="M147 483h21v22H147z"/>
<path fill="#566a71" d="M0 505h21v21H0z"/>
<path fill="#475b79" d="M42 505h21v21H42z"/>
<path fill="#586a71" d="M63 505h42v21H63zM0 757h21v21H0z"/>
<path fill="#475d7a" d="M105 505h21v21H105zM0 568h21v21H0z"/>
<path fill="#576782" d="M126 505h21v21H126z"/>
<path fill="#545281" d="M147 505h21v21H147z"/>
<path fill="#4c6077" d="M21 526h21v21H21zM21 568h21v21H21z"/>
<path fill="#485c79" d="M42 526h21v21H42z"/>
<path fill="#576b71" d="M63 526h21v21H63z"/>
<path fill="#677576" d="M84 526h21v21H84zM63 547h21v21H63z"/>
<path fill="#445e80" d="M105 526h21v21H105z"/>
<path fill="#697c7d" d="M126 526h21v21H126z"/>
<path fill="#7d7c7c" d="M147 526h21v21H147z"/>
<path fill="#a69883" d="M168 526h21v21H168z"/>
<path fill="#9b9582" d="M189 526h21v21H189z"/>
<path fill="#8a8b82" d="M210 526h21v21H210z"/>
<path fill="#7a898d" d="M231 526h21v21H231z"/>
<path fill="#466096" d="M252 526h21v21H252z"/>
<path fill="#43599d" d="M273 526h21v21H273z"/>
<path fill="#44599e" d="M294 526h42v21H294z"/>
<path fill="#43599e" d="M336 526h21v21H336z"/>
<path fill="#455ea5" d="M357 526h22v21H357z"/>
<path fill="#4d607a" d="M0 547h21v21H0zM147 547h21v21H147z"/>
<path fill="#6a7475" d="M21 547h21v21H21z"/>
<path fill="#4f617a" d="M42 547h21v21H42z"/>
<path fill="#637873" d="M84 547h21v21H84z"/>
<path fill="#456473" d="M105 547h21v21H105z"/>
<path fill="#576d71" d="M126 547h21v21H126z"/>
<path fill="#757e7c" d="M168 547h21v21H168z"/>
<path fill="#797f80" d="M189 547h21v21H189z"/>
<path fill="#6d7584" d="M210 547h21v21H210z"/>
<path fill="#606e8a" d="M231 547h21v21H231z"/>
<path fill="#73828a" d="M252 547h21v21H252z"/>
<path fill="#818994" d="M273 547h21v21H273z"/>
<path fill="#707b9a" d="M294 547h21v21H294z"/>
<path fill="#7e8c9c" d="M315 547h21v21H315z"/>
<path fill="#7d8c9c" d="M336 547h21v21H336z"/>
<path fill="#4760a4" d="M357 547h22v21H357z"/>
<path fill="#556b78" d="M42 568h21v21H42z"/>
<path fill="#485e76" d="M63 568h21v21H63z"/>
<path fill="#6d7878" d="M105 568h21v21H105z"/>
<path fill="#475c73" d="M126 568h21v21H126z"/>
<path fill="#4a5e7a" d="M168 568h21v21H168zM0 883h21v21H0z"/>
<path fill="#67767a" d="M189 568h21v21H189z"/>
<path fill="#4e6096" d="M210 568h21v21H210z"/>
<path fill="#77868a" d="M231 568h21v21H231z"/>
<path fill="#76879a" d="M252 568h21v21H252z"/>
<path fill="#808e98" d="M273 568h21v21H273z"/>
<path fill="#727d9a" d="M294 568h21v21H294z"/>
<path fill="#7d8898" d="M315 568h21v21H315z"/>
<path fill="#7c8798" d="M336 568h21v21H336z"/>
<path fill="#747f8d" d="M357 568h22v21H357z"/>
<path fill="#7e7b85" d="M379 568h21v21H379z"/>
<path fill="#757683" d="M400 568h21v21H400z"/>
<path fill="#7b7b83" d="M421 568h21v21H421z"/>
<path fill="#737786" d="M442 568h21v21H442z"/>
<path fill="#464e84" d="M463 568h21v21H463z"/>
<path fill="#454d84" d="M484 568h63v21H484z"/>
<path fill="#444884" d="M547 568h21v21H547z"/>
<path fill="#404484" d="M568 568h21v21H568z"/>
<path fill="#465c7a" d="M0 589h42v21H0zM0 610h42v21H0zM0 631h21v21H0z"/>
<path fill="#4c5d81" d="M42 589h21v21H42z"/>
<path fill="#737b7a" d="M63 589h21v21H63z"/>
<path fill="#495b80" d="M84 589h21v21H84z"/>
<path fill="#495d73" d="M126 589h21v21H126zM126 820h21v21H126z"/>
<path fill="#495c74" d="M147 589h21v21H147z"/>
<path fill="#586772" d="M168 589h21v21H168z"/>
<path fill="#54657d" d="M189 589h21v21H189z"/>
<path fill="#697b89" d="M210 589h21v21H210z"/>
<path fill="#7d8f95" d="M231 589h21v21H231z"/>
<path fill="#8998ae" d="M252 589h21v21H252z"/>
<path fill="#7b8da3" d="M273 589h21v21H273z"/>
<path fill="#7c8795" d="M294 589h21v21H294z"/>
<path fill="#848794" d="M315 589h21v21H315z"/>
<path fill="#878793" d="M336 589h21v21H336z"/>
<path fill="#727d8c" d="M357 589h22v21H357z"/>
<path fill="#797c84" d="M379 589h21v21H379z"/>
<path fill="#7f7e7d" d="M400 589h21v21H400z"/>
<path fill="#6b758e" d="M421 589h21v21H421z"/>
<path fill="#717888" d="M442 589h21v21H442z"/>
<path fill="#7e7e8b" d="M463 589h21v21H463z"/>
<path fill="#767785" d="M484 589h21v21H484z"/>
<path fill="#767083" d="M505 589h21v21H505z"/>
<path fill="#7a7383" d="M526 589h21v21H526z"/>
<path fill="#7d7383" d="M547 589h21v21H547z"/>
<path fill="#424687" d="M568 589h21v21H568z"/>
<path fill="#4b5c76" d="M126 610h21v21H126z"/>
<path fill="#4b5a80" d="M147 610h21v21H147z"/>
<path fill="#5a6f87" d="M168 610h21v21H168z"/>
<path fill="#5c7295" d="M189 610h21v21H189z"/>
<path fill="#788da9" d="M210 610h21v21H210z"/>
<path fill="#a0a8b7" d="M231 610h21v21H231z"/>
<path fill="#adb6bb" d="M252 610h21v21H252z"/>
<path fill="#8d94ae" d="M273 610h21v21H273z"/>
<path fill="#7c8195" d="M294 610h21v21H294z"/>
<path fill="#757797" d="M315 610h21v21H315z"/>
<path fill="#848497" d="M336 610h21v21H336z"/>
<path fill="#817a8b" d="M357 610h22v21H357z"/>
<path fill="#79798b" d="M379 610h21v21H379z"/>
<path fill="#76798b" d="M400 610h21v21H400z"/>
<path fill="#918b85" d="M421 610h21v21H421z"/>
<path fill="#888488" d="M442 610h21v21H442z"/>
<path fill="#928888" d="M463 610h21v21H463z"/>
<path fill="#857c8b" d="M484 610h21v21H484z"/>
<path fill="#8a8084" d="M505 610h21v21H505z"/>
<path fill="#807987" d="M526 610h21v21H526z"/>
<path fill="#837c87" d="M547 610h21v21H547z"/>
<path fill="#837d85" d="M568 610h21v21H568z"/>
<path fill="#727e8b" d="M589 610h21v21H589z"/>
<path fill="#878782" d="M610 610h21v21H610zM610 631h21v21H610z"/>
<path fill="#888480" d="M631 610h21v21H631z"/>
<path fill="#6b7580" d="M673 610h21v21H673zM673 631h21v21H673z"/>
<path fill="#475c7a" d="M21 631h21v21H21z"/>
<path fill="#566671" d="M42 631h21v21H42z"/>
<path fill="#475979" d="M63 631h21v21H63z"/>
<path fill="#566974" d="M84 631h21v21H84z"/>
<path fill="#4b597a" d="M105 631h21v21H105zM147 862h21v21H147z"/>
<path fill="#596178" d="M126 631h21v21H126z"/>
<path fill="#5e6a7d" d="M147 631h21v21H147z"/>
<path fill="#768495" d="M168 631h21v21H168z"/>
<path fill="#8192ab" d="M189 631h21v21H189z"/>
<path fill="#b0bfcd" d="M210 631h21v21H210z"/>
<path fill="#c7cfc8" d="M231 631h21v21H231z"/>
<path fill="#b8bfca" d="M252 631h21v21H252z"/>
<path fill="#8e95af" d="M273 631h21v21H273z"/>
<path fill="#717e9b" d="M294 631h21v21H294z"/>
<path fill="#818498" d="M315 631h21v21H315z"/>
<path fill="#897e93" d="M336 631h21v21H336z"/>
<path fill="#978c8d" d="M357 631h22v21H357z"/>
<path fill="#a59a86" d="M379 631h21v21H379z"/>
<path fill="#867f8f" d="M400 631h21v21H400z"/>
<path fill="#938c86" d="M421 631h21v21H421z"/>
<path fill="#a59a85" d="M442 631h21v21H442z"/>
<path fill="#a59389" d="M463 631h21v21H463z"/>
<path fill="#97898c" d="M484 631h21v21H484z"/>
<path fill="#897e8f" d="M505 631h21v21H505z"/>
<path fill="#8b8188" d="M526 631h21v21H526z"/>
<path fill="#8f8588" d="M547 631h21v21H547z"/>
<path fill="#8b8488" d="M568 631h21v21H568z"/>
<path fill="#797d8b" d="M589 631h21v21H589z"/>
<path fill="#8e8781" d="M631 631h21v21H631z"/>
<path fill="#7c7c7d" d="M652 631h21v21H652z"/>
<path fill="#475d79" d="M0 652h21v21H0z"/>
<path fill="#546374" d="M42 652h21v21H42z"/>
<path fill="#475976" d="M63 652h42v21H63zM84 673h21v21H84zM63 694h21v21H63zM63 736h21v21H63zM126 862h21v21H126z"/>
<path fill="#6c7481" d="M126 652h21v21H126z"/>
<path fill="#7886a2" d="M147 652h21v21H147z"/>
<path fill="#b6bec3" d="M168 652h21v21H168z"/>
<path fill="#cfd3d4" d="M189 652h21v21H189z"/>
<path fill="#e6eaea" d="M210 652h21v21H210z"/>
<path fill="#ededd9" d="M231 652h21v21H231z"/>
<path fill="#c7cbc8" d="M252 652h21v21H252z"/>
<path fill="#9d9aaf" d="M273 652h21v21H273z"/>
<path fill="#8d869b" d="M294 652h21v21H294z"/>
<path fill="#a0919c" d="M315 652h21v21H315z"/>
<path fill="#b59c9d" d="M336 652h21v21H336z"/>
<path fill="#af9c9c" d="M357 652h22v21H357z"/>
<path fill="#ae9c9c" d="M379 652h21v21H379z"/>
<path fill="#a79b8e" d="M400 652h21v21H400z"/>
<path fill="#a69b8a" d="M421 652h21v21H421z"/>
<path fill="#98908d" d="M442 652h21v21H442z"/>
<path fill="#988a90" d="M463 652h21v21H463z"/>
<path fill="#978990" d="M484 652h42v21H484z"/>
<path fill="#9e978a" d="M526 652h21v21H526z"/>
<path fill="#938990" d="M547 652h21v21H547z"/>
<path fill="#908b8c" d="M568 652h21v21H568z"/>
<path fill="#84848b" d="M589 652h21v21H589z"/>
<path fill="#848488" d="M610 652h21v21H610z"/>
<path fill="#7d8084" d="M631 652h21v21H631z"/>
<path fill="#717c81" d="M673 652h21v21H673z"/>
<path fill="#586a6e" d="M0 673h21v21H0zM0 694h21v21H0z"/>
<path fill="#55626d" d="M42 673h21v21H42z"/>
<path fill="#475872" d="M63 673h21v21H63z"/>
<path fill="#5d687f" d="M105 673h21v21H105z"/>
<path fill="#717a8d" d="M126 673h21v21H126z"/>
<path fill="#a8afbe" d="M147 673h21v21H147z"/>
<path fill="#e4e8df" d="M168 673h21v21H168z"/>
<path fill="#ebf3fa" d="M189 673h21v21H189z"/>
<path fill="#fdfdfd" d="M210 673h21v21H210zM210 694h21v21H210z"/>
<path fill="#eeeee7" d="M231 673h21v21H231z"/>
<path fill="#b3b9c7" d="M252 673h21v21H252z"/>
<path fill="#a9a1b3" d="M273 673h21v21H273z"/>
<path fill="#a8929a" d="M294 673h21v21H294z"/>
<path fill="#b79ea1" d="M315 673h21v21H315z"/>
<path fill="#c7a6a5" d="M336 673h21v21H336z"/>
<path fill="#cdaaa9" d="M357 673h22v21H357z"/>
<path fill="#c6afac" d="M379 673h21v21H379z"/>
<path fill="#a48ba3" d="M400 673h21v21H400z"/>
<path fill="#9c889e" d="M421 673h21v21H421z"/>
<path fill="#a69791" d="M442 673h21v21H442z"/>
<path fill="#9f9490" d="M463 673h21v21H463z"/>
<path fill="#9e9490" d="M484 673h21v21H484z"/>
<path fill="#a29791" d="M505 673h42v21H505z"/>
<path fill="#a49394" d="M547 673h21v21H547z"/>
<path fill="#8f8596" d="M568 673h21v21H568z"/>
<path fill="#87858f" d="M589 673h21v21H589z"/>
<path fill="#83838f" d="M610 673h21v21H610z"/>
<path fill="#83848b" d="M631 673h21v21H631z"/>
<path fill="#8a8b85" d="M652 673h21v21H652zM652 694h21v21H652z"/>
<path fill="#838480" d="M673 673h21v21H673z"/>
<path fill="#475975" d="M21 694h21v21H21z"/>
<path fill="#5c697f" d="M105 694h21v21H105z"/>
<path fill="#82858d" d="M126 694h21v21H126z"/>
<path fill="#c6c6c0" d="M147 694h21v21H147z"/>
<path fill="#dfdfe7" d="M168 694h21v21H168z"/>
<path fill="#f7f7f4" d="M189 694h21v21H189z"/>
<path fill="#dfdbe7" d="M231 694h21v21H231z"/>
<path fill="#ada5cb" d="M252 694h21v21H252z"/>
<path fill="#bfaab9" d="M273 694h21v21H273z"/>
<path fill="#b8a6b1" d="M294 694h21v21H294z"/>
<path fill="#ceb8b5" d="M315 694h21v21H315z"/>
<path fill="#e4c7b9" d="M336 694h21v21H336z"/>
<path fill="#e4cab9" d="M357 694h22v21H357z"/>
<path fill="#c7babf" d="M379 694h21v21H379z"/>
<path fill="#a8a0a9" d="M400 694h21v21H400z"/>
<path fill="#9f9b9d" d="M421 694h21v21H421z"/>
<path fill="#a59b92" d="M442 694h21v21H442z"/>
<path fill="#868a97" d="M463 694h21v21H463z"/>
<path fill="#9f9b91" d="M484 694h21v21H484z"/>
<path fill="#9e9b91" d="M505 694h21v21H505z"/>
<path fill="#898693" d="M526 694h21v21H526z"/>
<path fill="#818593" d="M547 694h21v21H547z"/>
<path fill="#7d8193" d="M568 694h21v21H568z"/>
<path fill="#848493" d="M589 694h21v21H589z"/>
<path fill="#616e91" d="M610 694h21v21H610zM273 778h21v21H273z"/>
<path fill="#757d8f" d="M631 694h21v21H631z"/>
<path fill="#727c84" d="M673 694h21v21H673z"/>
<path fill="#495c73" d="M0 715h21v21H0z"/>
<path fill="#4a5c73" d="M21 715h21v21H21z"/>
<path fill="#465876" d="M42 715h21v21H42z"/>
<path fill="#56696e" d="M63 715h21v21H63z"/>
<path fill="#556a6f" d="M84 715h21v21H84z"/>
<path fill="#5b7083" d="M105 715h21v21H105z"/>
<path fill="#8d909b" d="M126 715h21v21H126z"/>
<path fill="#bfbfca" d="M147 715h21v21H147z"/>
<path fill="#dbd8ec" d="M168 715h21v21H168z"/>
<path fill="#e6e3e7" d="M189 715h21v21H189z"/>
<path fill="#e6e2e7" d="M210 715h21v21H210z"/>
<path fill="#dac9db" d="M231 715h21v21H231z"/>
<path fill="#c8b2d2" d="M252 715h21v21H252z"/>
<path fill="#dbc6ca" d="M273 715h21v21H273z"/>
<path fill="#cbc2ca" d="M294 715h21v21H294z"/>
<path fill="#d8cac6" d="M315 715h21v21H315z"/>
<path fill="#e4d2c7" d="M336 715h21v21H336z"/>
<path fill="#d6cec6" d="M357 715h22v21H357z"/>
<path fill="#b0b3c1" d="M379 715h21v21H379z"/>
<path fill="#8f96b5" d="M400 715h21v21H400z"/>
<path fill="#878da3" d="M421 715h21v21H421z"/>
<path fill="#888c9f" d="M442 715h21v21H442z"/>
<path fill="#8f8f97" d="M463 715h21v21H463z"/>
<path fill="#848c9b" d="M484 715h21v21H484z"/>
<path fill="#7d8594" d="M505 715h21v21H505z"/>
<path fill="#78878d" d="M526 715h21v21H526z"/>
<path fill="#748386" d="M547 715h21v21H547z"/>
<path fill="#748389" d="M568 715h21v21H568z"/>
<path fill="#747f88" d="M589 715h21v21H589z"/>
<path fill="#717f90" d="M610 715h21v21H610z"/>
<path fill="#717c8c" d="M631 715h21v21H631zM400 883h21v21H400z"/>
<path fill="#7c8087" d="M652 715h21v21H652z"/>
<path fill="#6f7c84" d="M673 715h21v21H673z"/>
<path fill="#546677" d="M0 736h21v21H0zM84 862h42v21H84z"/>
<path fill="#47597a" d="M21 736h21v21H21z"/>
<path fill="#46557a" d="M42 736h21v21H42z"/>
<path fill="#546a71" d="M84 736h21v21H84zM84 757h21v21H84z"/>
<path fill="#546685" d="M105 736h21v21H105z"/>
<path fill="#848c90" d="M126 736h21v21H126z"/>
<path fill="#b5b6aa" d="M147 736h21v21H147z"/>
<path fill="#cccdc7" d="M168 736h21v21H168z"/>
<path fill="#b1b7c3" d="M189 736h21v21H189z"/>
<path fill="#b0b0b8" d="M231 736h21v21H231z"/>
<path fill="#d3c5b5" d="M252 736h21v21H252z"/>
<path fill="#b7afad" d="M273 736h21v21H273z"/>
<path fill="#9496ac" d="M294 736h21v21H294z"/>
<path fill="#a8a8ad" d="M315 736h21v21H315zM589 883h21v21H589zM589 904h21v21H589z"/>
<path fill="#acaca9" d="M336 736h21v21H336z"/>
<path fill="#afafb0" d="M357 736h22v21H357z"/>
<path fill="#8f99af" d="M379 736h21v21H379z"/>
<path fill="#9ea2a4" d="M400 736h21v21H400z"/>
<path fill="#858ca2" d="M421 736h21v21H421z"/>
<path fill="#75819b" d="M442 736h21v21H442z"/>
<path fill="#6f8097" d="M463 736h21v21H463z"/>
<path fill="#718093" d="M484 736h21v21H484z"/>
<path fill="#77878d" d="M505 736h21v21H505z"/>
<path fill="#75878c" d="M526 736h21v21H526z"/>
<path fill="#647c91" d="M547 736h21v21H547z"/>
<path fill="#7c8387" d="M568 736h21v21H568z"/>
<path fill="#7e7f85" d="M589 736h21v21H589z"/>
<path fill="#7c7d8b" d="M652 736h21v21H652z"/>
<path fill="#838385" d="M673 736h21v21H673z"/>
<path fill="#445c7d" d="M21 757h21v21H21z"/>
<path fill="#495d76" d="M63 757h21v21H63z"/>
<path fill="#495b81" d="M105 757h21v21H105z"/>
<path fill="#77828c" d="M126 757h21v21H126z"/>
<path fill="#8b9391" d="M147 757h21v21H147z"/>
<path fill="#7e90a3" d="M168 757h21v21H168z"/>
<path fill="#74869c" d="M189 757h21v21H189z"/>
<path fill="#6d8194" d="M210 757h21v21H210z"/>
<path fill="#788998" d="M231 757h21v21H231z"/>
<path fill="#9ea299" d="M252 757h21v21H252zM463 946h21v21H463z"/>
<path fill="#8a8d98" d="M273 757h21v21H273z"/>
<path fill="#7e899b" d="M294 757h21v21H294z"/>
<path fill="#818f9c" d="M315 757h21v21H315z"/>
<path fill="#8c979c" d="M336 757h21v21H336z"/>
<path fill="#788ca2" d="M357 757h22v21H357z"/>
<path fill="#82909c" d="M379 757h21v21H379z"/>
<path fill="#9da198" d="M400 757h21v21H400z"/>
<path fill="#838f95" d="M421 757h21v21H421z"/>
<path fill="#64788c" d="M442 757h21v21H442z"/>
<path fill="#58718a" d="M463 757h21v21H463z"/>
<path fill="#667e82" d="M484 757h21v21H484z"/>
<path fill="#667f82" d="M505 757h21v21H505z"/>
<path fill="#6a8285" d="M526 757h21v21H526z"/>
<path fill="#758986" d="M547 757h21v21H547z"/>
<path fill="#708382" d="M568 757h21v21H568z"/>
<path fill="#556387" d="M589 757h21v21H589z"/>
<path fill="#5c718a" d="M610 757h21v21H610z"/>
<path fill="#748886" d="M631 757h21v21H631z"/>
<path fill="#6e7f8c" d="M652 757h21v21H652z"/>
<path fill="#7f808b" d="M673 757h21v21H673z"/>
<path fill="#5c6e72" d="M0 778h21v21H0z"/>
<path fill="#47597d" d="M21 778h42v21H21zM21 883h21v21H21z"/>
<path fill="#4f6177" d="M63 778h21v21H63z"/>
<path fill="#48577a" d="M105 778h21v21H105z"/>
<path fill="#5d6c7f" d="M126 778h21v21H126z"/>
<path fill="#5b6d8a" d="M147 778h21v21H147z"/>
<path fill="#63788e" d="M168 778h21v21H168z"/>
<path fill="#697b8b" d="M189 778h42v21H189z"/>
<path fill="#6e7c8c" d="M231 778h21v21H231z"/>
<path fill="#747f8c" d="M252 778h21v21H252z"/>
<path fill="#6b7f92" d="M294 778h21v21H294z"/>
<path fill="#6d7f8f" d="M315 778h21v21H315z"/>
<path fill="#677992" d="M336 778h43v21H336z"/>
<path fill="#77868e" d="M379 778h21v21H379z"/>
<path fill="#75838c" d="M400 778h42v21H400z"/>
<path fill="#6e838d" d="M484 778h21v21H484z"/>
<path fill="#657e99" d="M505 778h21v21H505z"/>
<path fill="#778b9e" d="M526 778h21v21H526z"/>
<path fill="#818f9f" d="M547 778h21v21H547z"/>
<path fill="#707e9a" d="M568 778h21v21H568z"/>
<path fill="#758093" d="M589 778h21v21H589z"/>
<path fill="#748090" d="M610 778h21v21H610z"/>
<path fill="#71828c" d="M631 778h21v21H631z"/>
<path fill="#6e768b" d="M652 778h21v21H652z"/>
<path fill="#7f7d8b" d="M673 778h21v21H673z"/>
<path fill="#566674" d="M21 799h21v21H21z"/>
<path fill="#4e6074" d="M42 799h21v21H42z"/>
<path fill="#6d7278" d="M63 799h21v21H63z"/>
<path fill="#707978" d="M84 799h21v21H84z"/>
<path fill="#485a7a" d="M105 799h21v21H105z"/>
<path fill="#556675" d="M126 799h21v21H126z"/>
<path fill="#5d6f75" d="M147 799h21v21H147z"/>
<path fill="#506882" d="M168 799h21v21H168z"/>
<path fill="#697478" d="M189 799h21v21H189z"/>
<path fill="#6b7678" d="M210 799h21v21H210z"/>
<path fill="#6c777e" d="M231 799h21v21H231z"/>
<path fill="#5e6983" d="M252 799h21v21H252zM315 904h21v21H315z"/>
<path fill="#6b7a7e" d="M273 799h21v21H273z"/>
<path fill="#657781" d="M294 799h21v21H294z"/>
<path fill="#657785" d="M315 799h21v21H315z"/>
<path fill="#657787" d="M336 799h43v21H336zM315 820h42v21H315z"/>
<path fill="#5c6d8e" d="M379 799h21v21H379z"/>
<path fill="#5c6a8e" d="M400 799h21v21H400z"/>
<path fill="#738286" d="M421 799h21v21H421z"/>
<path fill="#6b7d8c" d="M442 799h21v21H442z"/>
<path fill="#859799" d="M463 799h21v21H463z"/>
<path fill="#7f91a3" d="M484 799h21v21H484z"/>
<path fill="#9fa7a1" d="M505 799h21v21H505z"/>
<path fill="#8b93b2" d="M526 799h21v21H526z"/>
<path fill="#9993bd" d="M547 799h21v21H547z"/>
<path fill="#a0a0ac" d="M568 799h21v21H568z"/>
<path fill="#9e9ea4" d="M589 799h21v21H589z"/>
<path fill="#6c7a9a" d="M610 799h21v21H610z"/>
<path fill="#71868c" d="M631 799h21v21H631z"/>
<path fill="#80808f" d="M652 799h21v21H652z"/>
<path fill="#837d8b" d="M673 799h21v21H673z"/>
<path fill="#475b78" d="M0 820h21v21H0z"/>
<path fill="#52647a" d="M21 820h21v21H21z"/>
<path fill="#5c6e74" d="M42 820h21v21H42zM126 904h21v21H126z"/>
<path fill="#4b617a" d="M63 820h21v21H63z"/>
<path fill="#4b607a" d="M84 820h21v21H84z"/>
<path fill="#4b5d7a" d="M105 820h21v21H105zM105 883h21v21H105z"/>
<path fill="#53657b" d="M147 820h21v21H147z"/>
<path fill="#808479" d="M168 820h21v21H168z"/>
<path fill="#5e707c" d="M189 820h21v21H189z"/>
<path fill="#687279" d="M210 820h21v21H210z"/>
<path fill="#6d747d" d="M231 820h21v21H231z"/>
<path fill="#687084" d="M252 820h21v21H252z"/>
<path fill="#5b6986" d="M273 820h42v21H273z"/>
<path fill="#627383" d="M357 820h22v21H357z"/>
<path fill="#737b84" d="M379 820h21v21H379z"/>
<path fill="#60718a" d="M400 820h21v21H400z"/>
<path fill="#758193" d="M421 820h21v21H421z"/>
<path fill="#8a91ae" d="M442 820h21v21H442z"/>
<path fill="#b6bab7" d="M463 820h21v21H463z"/>
<path fill="#cdceb9" d="M484 820h21v21H484z"/>
<path fill="#b8b9c3" d="M505 820h21v21H505z"/>
<path fill="#bfbfc8" d="M526 820h21v21H526z"/>
<path fill="#c3bfc7" d="M547 820h21v21H547z"/>
<path fill="#ccc9b9" d="M568 820h21v21H568z"/>
<path fill="#a7a8ac" d="M589 820h21v21H589z"/>
<path fill="#85939c" d="M610 820h21v21H610z"/>
<path fill="#6b7c8c" d="M631 820h21v21H631z"/>
<path fill="#7f7f8b" d="M652 820h21v21H652z"/>
<path fill="#757984" d="M673 820h21v21H673z"/>
<path fill="#536277" d="M21 841h42v21H21z"/>
<path fill="#495f76" d="M63 841h21v21H63z"/>
<path fill="#4a5c76" d="M105 841h42v21H105z"/>
<path fill="#526177" d="M147 841h21v21H147z"/>
<path fill="#6a727d" d="M168 841h21v21H168z"/>
<path fill="#6c737d" d="M189 841h21v21H189zM294 925h21v21H294z"/>
<path fill="#6a777d" d="M210 841h21v21H210zM210 862h21v21H210z"/>
<path fill="#747783" d="M231 841h21v21H231z"/>
<path fill="#626983" d="M252 841h21v21H252zM294 883h21v21H294z"/>
<path fill="#616883" d="M273 841h21v21H273z"/>
<path fill="#6f7384" d="M294 841h21v21H294z"/>
<path fill="#6b7784" d="M315 841h21v21H315zM357 841h22v21H357z"/>
<path fill="#657784" d="M336 841h21v21H336z"/>
<path fill="#697784" d="M379 841h21v21H379zM357 883h22v21H357z"/>
<path fill="#717c92" d="M400 841h21v21H400z"/>
<path fill="#8b909c" d="M421 841h21v21H421z"/>
<path fill="#afafb7" d="M442 841h21v21H442z"/>
<path fill="#cecece" d="M463 841h21v21H463z"/>
<path fill="#e4e1d0" d="M484 841h21v21H484z"/>
<path fill="#dad6d6" d="M505 841h21v21H505z"/>
<path fill="#dad6d3" d="M526 841h21v21H526z"/>
<path fill="#dad7d3" d="M547 841h21v21H547z"/>
<path fill="#d9d6c1" d="M568 841h21v21H568z"/>
<path fill="#afb3b4" d="M589 841h21v21H589z"/>
<path fill="#7586a2" d="M610 841h21v21H610z"/>
<path fill="#78838d" d="M631 841h21v21H631z"/>
<path fill="#6d7181" d="M673 841h21v21H673z"/>
<path fill="#4c5b7a" d="M21 862h21v21H21z"/>
<path fill="#4d5b7a" d="M42 862h21v21H42z"/>
<path fill="#626d78" d="M63 862h21v21H63z"/>
<path fill="#5a617f" d="M168 862h21v21H168z"/>
<path fill="#5e697b" d="M189 862h21v21H189z"/>
<path fill="#74777f" d="M231 862h21v21H231z"/>
<path fill="#657380" d="M252 862h21v21H252z"/>
<path fill="#575f85" d="M273 862h21v21H273z"/>
<path fill="#6f7787" d="M294 862h21v21H294z"/>
<path fill="#6f7788" d="M315 862h21v21H315z"/>
<path fill="#5b6d89" d="M336 862h21v21H336z"/>
<path fill="#5b6d86" d="M357 862h22v21H357z"/>
<path fill="#697785" d="M379 862h21v21H379z"/>
<path fill="#727c93" d="M400 862h21v21H400z"/>
<path fill="#8d8d9b" d="M421 862h21v21H421z"/>
<path fill="#b2b3a8" d="M442 862h21v21H442z"/>
<path fill="#d0d0b9" d="M463 862h21v21H463z"/>
<path fill="#c7c7bd" d="M484 862h21v21H484z"/>
<path fill="#b5b5c7" d="M505 862h21v21H505z"/>
<path fill="#b2b5cb" d="M526 862h21v21H526z"/>
<path fill="#cfcfcf" d="M547 862h21v21H547z"/>
<path fill="#d8d7c1" d="M568 862h21v21H568z"/>
<path fill="#afb0b0" d="M589 862h21v21H589z"/>
<path fill="#7180a8" d="M610 862h21v21H610z"/>
<path fill="#7b828e" d="M631 862h21v21H631z"/>
<path fill="#6a718a" d="M652 862h21v21H652z"/>
<path fill="#7f7f81" d="M673 862h21v21H673z"/>
<path fill="#666b7c" d="M42 883h21v21H42z"/>
<path fill="#4b577a" d="M63 883h21v21H63z"/>
<path fill="#57677b" d="M84 883h21v21H84z"/>
<path fill="#607175" d="M126 883h21v21H126z"/>
<path fill="#636e78" d="M147 883h21v21H147z"/>
<path fill="#56617e" d="M168 883h21v21H168z"/>
<path fill="#6b767d" d="M189 883h21v21H189zM273 883h21v21H273z"/>
<path fill="#697078" d="M210 883h21v21H210z"/>
<path fill="#5d6f78" d="M231 883h21v21H231z"/>
<path fill="#5d6f79" d="M252 883h21v21H252z"/>
<path fill="#667784" d="M379 883h21v21H379z"/>
<path fill="#808594" d="M421 883h21v21H421z"/>
<path fill="#9e9f99" d="M442 883h21v21H442z"/>
<path fill="#a0a7a8" d="M463 883h21v21H463z"/>
<path fill="#939db0" d="M484 883h21v21H484z"/>
<path fill="#8c94be" d="M505 883h21v21H505z"/>
<path fill="#9ca7ca" d="M526 883h21v21H526z"/>
<path fill="#acb6d5" d="M547 883h21v21H547z"/>
<path fill="#c7c7c0" d="M568 883h21v21H568z"/>
<path fill="#91919f" d="M610 883h21v21H610z"/>
<path fill="#757989" d="M631 883h21v21H631z"/>
<path fill="#717588" d="M652 883h21v21H652z"/>
<path fill="#7c7c81" d="M673 883h21v21H673z"/>
<path fill="#516377" d="M0 904h21v21H0zM0 925h21v21H0z"/>
<path fill="#4e597a" d="M21 904h21v21H21z"/>
<path fill="#535e77" d="M42 904h21v21H42z"/>
<path fill="#5c6a78" d="M63 904h21v21H63z"/>
<path fill="#4b5e7a" d="M84 904h21v21H84z"/>
<path fill="#4b5f7a" d="M105 904h21v21H105z"/>
<path fill="#5e6e78" d="M168 904h21v21H168z"/>
<path fill="#697279" d="M189 904h21v21H189z"/>
<path fill="#5e657b" d="M210 904h21v21H210z"/>
<path fill="#5d6b7c" d="M231 904h21v21H231z"/>
<path fill="#4b5e7e" d="M252 904h21v21H252zM252 925h21v21H252z"/>
<path fill="#6c7378" d="M273 904h21v21H273z"/>
<path fill="#6c7484" d="M336 904h21v21H336z"/>
<path fill="#777e81" d="M379 904h21v21H379z"/>
<path fill="#69788b" d="M400 904h21v21H400z"/>
<path fill="#707888" d="M421 904h21v21H421z"/>
<path fill="#72808d" d="M442 904h21v21H442z"/>
<path fill="#77889b" d="M463 904h21v21H463z"/>
<path fill="#848fb2" d="M484 904h21v21H484z"/>
<path fill="#9b9bc6" d="M505 904h21v21H505z"/>
<path fill="#bfbfd3" d="M526 904h21v21H526z"/>
<path fill="#cfcfe1" d="M547 904h21v21H547z"/>
<path fill="#cecec4" d="M568 904h21v21H568z"/>
<path fill="#82869b" d="M610 904h21v21H610z"/>
<path fill="#88858f" d="M631 904h21v21H631z"/>
<path fill="#878488" d="M652 904h21v21H652z"/>
<path fill="#7c7c83" d="M673 904h21v21H673z"/>
<path fill="#5e6a75" d="M21 925h21v21H21z"/>
<path fill="#535e7b" d="M42 925h21v21H42z"/>
<path fill="#4b5d81" d="M63 925h21v21H63z"/>
<path fill="#566a7b" d="M84 925h21v21H84z"/>
<path fill="#4f617d" d="M105 925h21v21H105z"/>
<path fill="#677577" d="M126 925h21v21H126z"/>
<path fill="#435779" d="M147 925h21v21H147z"/>
<path fill="#4f5e7d" d="M168 925h21v21H168z"/>
<path fill="#565f7e" d="M189 925h21v21H189z"/>
<path fill="#646882" d="M210 925h21v21H210z"/>
<path fill="#6b6f78" d="M231 925h21v21H231z"/>
<path fill="#6a767d" d="M273 925h21v21H273zM273 946h21v21H273z"/>
<path fill="#6f7380" d="M315 925h21v21H315z"/>
<path fill="#6f7480" d="M336 925h21v21H336z"/>
<path fill="#707884" d="M357 925h22v21H357z"/>
<path fill="#5f7083" d="M379 925h21v21H379z"/>
<path fill="#526688" d="M400 925h21v21H400z"/>
<path fill="#6b737e" d="M421 925h21v21H421z"/>
<path fill="#667485" d="M442 925h21v21H442z"/>
<path fill="#717e9a" d="M463 925h21v21H463z"/>
<path fill="#aeaeb4" d="M484 925h21v21H484z"/>
<path fill="#b3afd5" d="M505 925h21v21H505z"/>
<path fill="#e9e1df" d="M526 925h21v21H526z"/>
<path fill="#e7dfe6" d="M547 925h21v21H547z"/>
<path fill="#d3cfcf" d="M568 925h21v21H568z"/>
<path fill="#acacb0" d="M589 925h21v21H589z"/>
<path fill="#8e8e9b" d="M610 925h21v21H610z"/>
<path fill="#96908e" d="M631 925h21v21H631z"/>
<path fill="#8f8c88" d="M652 925h21v21H652z"/>
<path fill="#818187" d="M673 925h21v21H673z"/>
<path fill="#51607b" d="M0 946h42v21H0z"/>
<path fill="#495f7a" d="M42 946h21v21H42z"/>
<path fill="#5c6e78" d="M63 946h21v21H63z"/>
<path fill="#586a7b" d="M84 946h21v21H84z"/>
<path fill="#4c5b80" d="M105 946h21v21H105z"/>
<path fill="#586775" d="M126 946h21v21H126z"/>
<path fill="#617275" d="M147 946h21v21H147z"/>
<path fill="#6a7879" d="M168 946h21v21H168z"/>
<path fill="#54617e" d="M189 946h21v21H189z"/>
<path fill="#737383" d="M210 946h21v21H210z"/>
<path fill="#636e7c" d="M231 946h21v21H231z"/>
<path fill="#4d627e" d="M252 946h21v21H252z"/>
<path fill="#667080" d="M294 946h21v21H294z"/>
<path fill="#656c83" d="M315 946h21v21H315z"/>
<path fill="#5b6389" d="M336 946h21v21H336z"/>
<path fill="#737a85" d="M357 946h22v21H357z"/>
<path fill="#747b80" d="M379 946h21v21H379z"/>
<path fill="#586f83" d="M421 946h21v21H421z"/>
<path fill="#6d7992" d="M442 946h21v21H442z"/>
<path fill="#b3b3bc" d="M484 946h21v21H484z"/>
<path fill="#dad6de" d="M505 946h21v21H505z"/>
<path fill="#f1eadd" d="M526 946h21v21H526z"/>
<path fill="#ebe7dd" d="M547 946h21v21H547z"/>
<path fill="#d3cfcc" d="M568 946h21v21H568z"/>
<path fill="#9fa2b3" d="M589 946h21v21H589z"/>
<path fill="#a0a0a4" d="M610 946h21v21H610z"/>
<path fill="#a5a291" d="M631 946h21v21H631z"/>
<path fill="#909090" d="M652 946h21v21H652z"/>
<path fill="#7d8593" d="M673 946h21v21H673z"/>

<g fill="#000" shape-rendering="auto"><circle cx="641.3" cy="17.4" r="1.55"/><circle cx="662.2" cy="22.4" r="1.55"/><circle cx="633.3" cy="32.5" r="1.55"/><circle cx="620.5" cy="40.5" r="1.55"/><circle cx="641.3" cy="41.2" r="1.55"/><circle cx="606.4" cy="53.4" r="1.55"/><circle cx="634.4" cy="53.4" r="1.55"/><circle cx="646.4" cy="53.4" r="1.55"/><circle cx="641.3" cy="60.5" r="1.55"/><circle cx="615.4" cy="74.4" r="1.55"/><circle cx="610.4" cy="95.3" r="1.55"/><circle cx="599.3" cy="114.4" r="1.55"/><circle cx="597.3" cy="116.2" r="1.55"/><circle cx="578.2" cy="134.4" r="1.55"/><circle cx="573.3" cy="137.4" r="1.55"/><circle cx="557.2" cy="144.3" r="1.55"/><circle cx="536.5" cy="144.3" r="1.55"/><circle cx="525.3" cy="137.4" r="1.55"/><circle cx="515.4" cy="133.4" r="1.55"/><circle cx="506.2" cy="137.4" r="1.55"/><circle cx="498.2" cy="158.4" r="1.55"/><circle cx="506.2" cy="179.1" r="1.55"/><circle cx="494.4" cy="183.4" r="1.55"/><circle cx="473.5" cy="190.4" r="1.55"/><circle cx="459.5" cy="200.3" r="1.55"/><circle cx="452.4" cy="209.3" r="1.55"/><circle cx="448.5" cy="221.4" r="1.55"/><circle cx="452.4" cy="237.4" r="1.55"/><circle cx="453.5" cy="242.5" r="1.55"/><circle cx="459.5" cy="263.4" r="1.55"/><circle cx="453.3" cy="284.6" r="1.55"/><circle cx="452.2" cy="287.5" r="1.55"/><circle cx="435.5" cy="305.5" r="1.55"/><circle cx="431.3" cy="308.4" r="1.55"/><circle cx="420.4" cy="326.4" r="1.55"/><circle cx="415.3" cy="347.3" r="1.55"/><circle cx="360.5" cy="599.3" r="1.55"/><circle cx="346.2" cy="608.4" r="1.55"/><circle cx="325.3" cy="612.6" r="1.55"/><circle cx="312.5" cy="620.4" r="1.55"/><circle cx="304.5" cy="628.4" r="1.55"/><circle cx="294.2" cy="641.4" r="1.55"/><circle cx="283.3" cy="657.4" r="1.55"/><circle cx="281.3" cy="662.5" r="1.55"/><circle cx="272.5" cy="683.3" r="1.55"/><circle cx="283.1" cy="703.3" r="1.55"/><circle cx="285.5" cy="704.4" r="1.55"/><circle cx="304.5" cy="718.5" r="1.55"/><circle cx="325.3" cy="713.4" r="1.55"/><circle cx="346.4" cy="708.4" r="1.55"/><circle cx="357.3" cy="704.4" r="1.55"/><circle cx="368.5" cy="702.3" r="1.55"/><circle cx="385.3" cy="704.4" r="1.55"/><circle cx="389.3" cy="705.4" r="1.55"/><circle cx="410.2" cy="711.3" r="1.55"/><circle cx="431.4" cy="722.5" r="1.55"/><circle cx="452.3" cy="710.5" r="1.55"/><circle cx="473.3" cy="716.6" r="1.55"/><circle cx="494.4" cy="723.3" r="1.55"/><circle cx="497.3" cy="725.4" r="1.55"/><circle cx="515.4" cy="743.5" r="1.55"/><circle cx="536.5" cy="733.4" r="1.55"/><circle cx="546.4" cy="725.4" r="1.55"/><circle cx="557.0" cy="724.5" r="1.55"/><circle cx="578.5" cy="720.4" r="1.55"/><circle cx="599.4" cy="708.3" r="1.55"/><circle cx="620.4" cy="717.3" r="1.55"/><circle cx="641.4" cy="707.3" r="1.55"/><circle cx="658.4" cy="725.3" r="1.55"/><circle cx="659.4" cy="746.4" r="1.55"/><circle cx="655.3" cy="767.4" r="1.55"/><circle cx="654.4" cy="788.4" r="1.55"/><circle cx="662.5" cy="808.4" r="1.55"/><circle cx="662.5" cy="812.6" r="1.55"/><circle cx="643.3" cy="830.5" r="1.55"/><circle cx="641.4" cy="833.3" r="1.55"/><circle cx="620.4" cy="843.5" r="1.55"/><circle cx="615.4" cy="851.3" r="1.55"/><circle cx="611.5" cy="872.5" r="1.55"/><circle cx="617.3" cy="893.4" r="1.55"/><circle cx="609.3" cy="914.4" r="1.55"/><circle cx="610.3" cy="935.4" r="1.55"/><circle cx="617.3" cy="956.4" r="1.55"/></g>
</svg>
<svg class="ax" style="left:873px;top:53px" width="715" height="967" viewBox="0 0 715 967" shape-rendering="crispEdges">
<path fill="#0055ff" d="M0 0h63v21H0zM0 21h63v21H0zM0 42h42v21H0zM0 63h42v21H0zM0 84h42v21H0zM0 105h21v21H0zM0 126h21v21H0zM0 147h21v21H0zM0 168h21v21H0zM0 189h21v21H0z"/>
<path fill="#54229a" d="M63 0h631v21H63zM63 21h631v21H63zM42 42h652v21H42zM42 63h652v21H42zM42 84h652v21H42zM21 105h673v21H21zM21 126h673v21H21zM21 147h673v21H21zM21 168h673v21H21zM21 189h673v21H21zM0 210h694v21H0zM0 231h694v21H0zM0 252h694v21H0zM0 273h589v21H0zM610 273h84v21H610zM63 294h631v21H63zM147 315h547v21H147zM273 336h421v21H273zM357 357h337v21H357zM484 378h210v21H484zM631 399h63v21H631zM0 483h168v22H0zM0 505h168v21H0zM0 526h379v21H0zM0 547h379v21H0zM0 568h505v21H0zM0 589h568v21H0zM0 610h589v21H0zM610 610h84v21H610zM0 631h400v21H0zM421 631h63v21H421zM610 631h84v21H610zM0 652h210v21H0zM252 652h442v21H252zM0 673h168v21H0zM189 673h21v21H189zM231 673h463v21H231zM0 694h189v21H0zM231 694h463v21H231zM0 715h210v21H0zM231 715h463v21H231zM0 736h252v21H0zM273 736h421v21H273zM0 757h694v21H0zM0 778h694v21H0zM0 799h694v21H0zM0 820h694v21H0zM0 841h484v21H0zM505 841h189v21H505zM0 862h694v21H0zM0 883h673v21H0zM0 904h673v21H0zM0 925h526v21H0zM547 925h105v21H547zM0 946h526v21H0zM568 946h105v21H568z"/>
<path fill="#bc6496" d="M694 0h21v21H694zM694 21h21v21H694zM694 42h21v21H694zM694 63h21v21H694zM694 84h21v21H694zM694 105h21v21H694zM694 126h21v21H694zM694 147h21v21H694zM694 168h21v21H694zM694 189h21v21H694zM694 210h21v21H694zM694 231h21v21H694zM694 252h21v21H694zM694 273h21v21H694zM0 294h63v21H0zM694 294h21v21H694zM0 315h147v21H0zM694 315h21v21H694zM0 336h273v21H0zM694 336h21v21H694zM0 357h357v21H0zM694 357h21v21H694zM0 378h484v21H0zM694 378h21v21H694zM0 399h568v21H0zM694 399h21v21H694zM0 420h715v21H0zM0 441h715v21H0zM0 462h715v21H0zM168 483h547v22H168zM168 505h547v21H168zM379 526h336v21H379zM379 547h336v21H379zM589 568h126v21H589zM589 589h126v21H589zM694 610h21v21H694zM694 631h21v21H694zM694 652h21v21H694zM694 673h21v21H694zM694 694h21v21H694zM694 715h21v21H694zM694 736h21v21H694zM694 757h21v21H694zM694 778h21v21H694zM694 799h21v21H694zM694 820h21v21H694zM694 841h21v21H694zM694 862h21v21H694zM694 883h21v21H694zM694 904h21v21H694zM694 925h21v21H694zM694 946h21v21H694z"/>
<path fill="#8c3270" d="M589 273h21v21H589zM589 610h21v21H589zM400 631h21v21H400zM484 631h126v21H484zM673 883h21v21H673zM673 904h21v21H673zM652 925h42v21H652zM673 946h21v21H673z"/>
<path fill="#6c1c62" d="M568 399h63v21H568zM505 568h84v21H505zM568 589h21v21H568z"/>
<path fill="#ac6a9e" d="M210 652h42v21H210zM168 673h21v21H168zM210 673h21v21H210zM189 694h42v21H189zM210 715h21v21H210zM252 736h21v21H252zM484 841h21v21H484zM526 925h21v21H526zM526 946h42v21H526z"/>

<g fill="#000" shape-rendering="auto"><circle cx="641.3" cy="17.4" r="1.55"/><circle cx="662.2" cy="22.4" r="1.55"/><circle cx="633.3" cy="32.5" r="1.55"/><circle cx="620.5" cy="40.5" r="1.55"/><circle cx="641.3" cy="41.2" r="1.55"/><circle cx="606.4" cy="53.4" r="1.55"/><circle cx="634.4" cy="53.4" r="1.55"/><circle cx="646.4" cy="53.4" r="1.55"/><circle cx="641.3" cy="60.5" r="1.55"/><circle cx="615.4" cy="74.4" r="1.55"/><circle cx="610.4" cy="95.3" r="1.55"/><circle cx="599.3" cy="114.4" r="1.55"/><circle cx="597.3" cy="116.2" r="1.55"/><circle cx="578.2" cy="134.4" r="1.55"/><circle cx="573.3" cy="137.4" r="1.55"/><circle cx="557.2" cy="144.3" r="1.55"/><circle cx="536.5" cy="144.3" r="1.55"/><circle cx="525.3" cy="137.4" r="1.55"/><circle cx="515.4" cy="133.4" r="1.55"/><circle cx="506.2" cy="137.4" r="1.55"/><circle cx="498.2" cy="158.4" r="1.55"/><circle cx="506.2" cy="179.1" r="1.55"/><circle cx="494.4" cy="183.4" r="1.55"/><circle cx="473.5" cy="190.4" r="1.55"/><circle cx="459.5" cy="200.3" r="1.55"/><circle cx="452.4" cy="209.3" r="1.55"/><circle cx="448.5" cy="221.4" r="1.55"/><circle cx="452.4" cy="237.4" r="1.55"/><circle cx="453.5" cy="242.5" r="1.55"/><circle cx="459.5" cy="263.4" r="1.55"/><circle cx="453.3" cy="284.6" r="1.55"/><circle cx="452.2" cy="287.5" r="1.55"/><circle cx="435.5" cy="305.5" r="1.55"/><circle cx="431.3" cy="308.4" r="1.55"/><circle cx="420.4" cy="326.4" r="1.55"/><circle cx="415.3" cy="347.3" r="1.55"/><circle cx="360.5" cy="599.3" r="1.55"/><circle cx="346.2" cy="608.4" r="1.55"/><circle cx="325.3" cy="612.6" r="1.55"/><circle cx="312.5" cy="620.4" r="1.55"/><circle cx="304.5" cy="628.4" r="1.55"/><circle cx="294.2" cy="641.4" r="1.55"/><circle cx="283.3" cy="657.4" r="1.55"/><circle cx="281.3" cy="662.5" r="1.55"/><circle cx="272.5" cy="683.3" r="1.55"/><circle cx="283.1" cy="703.3" r="1.55"/><circle cx="285.5" cy="704.4" r="1.55"/><circle cx="304.5" cy="718.5" r="1.55"/><circle cx="325.3" cy="713.4" r="1.55"/><circle cx="346.4" cy="708.4" r="1.55"/><circle cx="357.3" cy="704.4" r="1.55"/><circle cx="368.5" cy="702.3" r="1.55"/><circle cx="385.3" cy="704.4" r="1.55"/><circle cx="389.3" cy="705.4" r="1.55"/><circle cx="410.2" cy="711.3" r="1.55"/><circle cx="431.4" cy="722.5" r="1.55"/><circle cx="452.3" cy="710.5" r="1.55"/><circle cx="473.3" cy="716.6" r="1.55"/><circle cx="494.4" cy="723.3" r="1.55"/><circle cx="497.3" cy="725.4" r="1.55"/><circle cx="515.4" cy="743.5" r="1.55"/><circle cx="536.5" cy="733.4" r="1.55"/><circle cx="546.4" cy="725.4" r="1.55"/><circle cx="557.0" cy="724.5" r="1.55"/><circle cx="578.5" cy="720.4" r="1.55"/><circle cx="599.4" cy="708.3" r="1.55"/><circle cx="620.4" cy="717.3" r="1.55"/><circle cx="641.4" cy="707.3" r="1.55"/><circle cx="658.4" cy="725.3" r="1.55"/><circle cx="659.4" cy="746.4" r="1.55"/><circle cx="655.3" cy="767.4" r="1.55"/><circle cx="654.4" cy="788.4" r="1.55"/><circle cx="662.5" cy="808.4" r="1.55"/><circle cx="662.5" cy="812.6" r="1.55"/><circle cx="643.3" cy="830.5" r="1.55"/><circle cx="641.4" cy="833.3" r="1.55"/><circle cx="620.4" cy="843.5" r="1.55"/><circle cx="615.4" cy="851.3" r="1.55"/><circle cx="611.5" cy="872.5" r="1.55"/><circle cx="617.3" cy="893.4" r="1.55"/><circle cx="609.3" cy="914.4" r="1.55"/><circle cx="610.3" cy="935.4" r="1.55"/><circle cx="617.3" cy="956.4" r="1.55"/></g>
</svg>
<svg class="ax" style="left:1730px;top:53px" width="715" height="967" viewBox="0 0 715 967" shape-rendering="crispEdges">
<path fill="#0000ff" d="M0 0h21v21H0z"/>
<path fill="#2828ff" d="M21 0h21v21H21zM21 21h21v21H21z"/>
<path fill="#5858ff" d="M42 0h21v21H42zM0 147h21v21H0z"/>
<path fill="#8b3799" d="M63 0h21v21H63zM105 0h21v21H105zM147 0h21v21H147zM210 0h21v21H210zM315 0h64v21H315zM526 0h21v21H526zM568 0h21v21H568zM105 21h21v21H105zM357 21h22v21H357zM400 21h21v21H400zM442 21h42v21H442zM63 42h21v21H63zM126 42h42v21H126zM357 42h22v21H357zM442 42h21v21H442zM84 63h21v21H84zM147 63h21v21H147zM189 63h21v21H189zM231 63h42v21H231zM336 63h21v21H336zM505 63h42v21H505zM294 84h21v21H294zM379 84h21v21H379zM484 84h63v21H484zM21 105h21v21H21zM210 105h42v21H210zM400 105h21v21H400zM547 105h21v21H547zM105 126h21v21H105zM210 126h42v21H210zM421 126h21v21H421zM463 126h21v21H463zM42 147h21v21H42zM126 147h21v21H126zM210 147h42v21H210zM294 147h21v21H294zM400 147h21v21H400zM42 168h21v21H42zM147 168h84v21H147zM315 168h21v21H315zM21 189h21v21H21zM252 189h21v21H252zM315 189h21v21H315zM105 210h63v21H105zM273 210h21v21H273zM357 210h43v21H357zM421 210h21v21H421zM84 231h21v21H84zM147 231h21v21H147zM210 231h21v21H210zM42 252h21v21H42zM84 252h21v21H84zM63 273h42v21H63zM421 273h21v21H421zM147 294h21v21H147zM231 294h21v21H231zM400 294h21v21H400zM21 505h21v21H21zM126 505h21v21H126zM63 526h21v21H63zM63 547h42v21H63zM273 547h21v21H273zM252 568h42v21H252zM315 568h21v21H315zM210 589h21v21H210zM273 589h63v21H273zM189 631h21v21H189zM42 652h21v21H42zM147 652h21v21H147zM252 652h21v21H252zM0 673h21v21H0zM84 673h21v21H84zM126 694h21v21H126zM231 715h21v21H231zM379 715h21v21H379zM273 736h21v21H273zM273 757h21v21H273zM336 757h21v21H336zM0 778h21v21H0zM0 799h21v21H0zM147 799h21v21H147zM21 820h21v21H21zM84 820h21v21H84zM568 820h21v21H568zM63 841h21v21H63zM42 862h21v21H42zM442 862h21v21H442zM505 862h42v21H505zM42 883h21v21H42zM126 883h21v21H126zM526 883h21v21H526zM63 904h21v21H63zM63 925h21v21H63zM484 925h42v21H484zM63 946h21v21H63z"/>
<path fill="#aa5397" d="M84 0h21v21H84zM589 0h21v21H589zM652 0h42v21H652zM589 21h21v21H589zM589 42h21v21H589zM673 42h21v21H673zM589 105h21v21H589zM526 126h42v21H526zM379 147h21v21H379zM484 168h21v21H484zM442 189h21v21H442zM442 231h21v21H442zM442 252h21v21H442zM421 294h21v21H421zM294 336h21v21H294zM400 336h21v21H400zM147 483h21v22H147zM147 505h21v21H147zM357 568h22v21H357zM400 589h21v21H400zM294 610h21v21H294zM273 694h21v21H273zM421 715h42v21H421zM421 736h21v21H421zM21 757h21v21H21zM484 757h84v21H484zM610 757h21v21H610zM273 778h21v21H273zM421 778h84v21H421zM610 778h21v21H610zM421 799h42v21H421zM252 820h63v21H252zM610 820h21v21H610zM379 841h63v21H379zM631 841h21v21H631zM252 862h21v21H252zM357 862h64v21H357zM357 883h43v21H357zM294 904h21v21H294zM400 904h21v21H400zM294 925h21v21H294zM421 925h63v21H421zM294 946h63v21H294zM442 946h21v21H442z"/>
<path fill="#73209b" d="M126 0h21v21H126zM547 42h21v21H547zM189 252h42v21H189zM336 252h21v21H336zM210 273h21v21H210zM357 273h43v21H357zM357 294h43v21H357zM189 652h42v21H189zM189 673h21v21H189zM147 694h84v21H147zM189 715h42v21H189zM147 736h42v21H147zM84 799h21v21H84zM526 946h42v21H526z"/>
<path fill="#7f2b9a" d="M168 0h21v21H168zM379 0h21v21H379zM126 21h21v21H126zM336 21h21v21H336zM526 21h21v21H526zM568 21h21v21H568zM42 42h21v21H42zM336 42h21v21H336zM379 42h63v21H379zM568 42h21v21H568zM357 63h43v21H357zM84 84h21v21H84zM231 84h42v21H231zM547 84h21v21H547zM84 105h21v21H84zM84 126h21v21H84zM442 126h21v21H442zM84 147h21v21H84zM252 147h21v21H252zM336 147h21v21H336zM84 168h21v21H84zM168 189h21v21H168zM294 189h21v21H294zM400 189h42v21H400zM168 210h21v21H168zM294 210h21v21H294zM336 210h21v21H336zM400 210h21v21H400zM231 231h42v21H231zM336 231h64v21H336zM0 252h21v21H0zM231 252h21v21H231zM315 252h21v21H315zM421 252h21v21H421zM0 273h21v21H0zM168 273h21v21H168zM231 273h21v21H231zM315 273h21v21H315zM400 273h21v21H400zM105 294h21v21H105zM210 294h21v21H210zM315 294h21v21H315zM315 336h21v21H315zM379 336h21v21H379zM0 505h21v21H0zM63 505h42v21H63zM126 526h21v21H126zM105 568h21v21H105zM231 589h42v21H231zM231 610h42v21H231zM21 631h42v21H21zM210 631h21v21H210zM231 673h21v21H231zM21 715h21v21H21zM189 736h21v21H189zM252 736h21v21H252zM126 757h42v21H126zM84 778h21v21H84zM168 820h21v21H168zM484 841h21v21H484zM63 862h21v21H63zM526 904h42v21H526zM84 925h21v21H84z"/>
<path fill="#913c99" d="M189 0h21v21H189zM231 0h21v21H231zM273 0h21v21H273zM63 21h42v21H63zM147 21h63v21H147zM273 21h21v21H273zM315 21h21v21H315zM505 21h21v21H505zM84 42h42v21H84zM42 63h42v21H42zM105 63h21v21H105zM168 63h21v21H168zM210 63h21v21H210zM315 63h21v21H315zM400 63h42v21H400zM484 63h21v21H484zM168 84h21v21H168zM315 84h21v21H315zM42 105h42v21H42zM105 105h84v21H105zM294 105h42v21H294zM421 105h21v21H421zM42 126h42v21H42zM147 126h21v21H147zM315 126h21v21H315zM147 147h21v21H147zM442 147h42v21H442zM231 168h84v21H231zM400 168h21v21H400zM273 189h21v21H273zM21 210h21v21H21zM0 231h21v21H0zM42 231h42v21H42zM105 231h21v21H105zM126 252h42v21H126zM252 252h21v21H252zM105 273h63v21H105zM63 294h42v21H63zM168 294h21v21H168zM252 315h42v21H252zM0 483h21v22H0zM42 483h63v22H42zM42 505h21v21H42zM105 505h21v21H105zM0 526h42v21H0zM126 547h21v21H126zM210 547h21v21H210zM252 547h21v21H252zM294 568h21v21H294zM336 568h21v21H336zM0 589h42v21H0zM105 589h21v21H105zM168 589h21v21H168zM63 610h21v21H63zM168 610h21v21H168zM210 610h21v21H210zM84 631h21v21H84zM0 652h21v21H0zM63 673h21v21H63zM21 694h42v21H21zM336 736h21v21H336zM400 736h21v21H400zM84 757h21v21H84zM168 757h42v21H168zM231 757h21v21H231zM315 757h21v21H315zM400 757h21v21H400zM147 778h63v21H147zM126 799h21v21H126zM168 799h42v21H168zM505 799h21v21H505zM105 820h21v21H105zM463 820h21v21H463zM505 820h63v21H505zM21 841h21v21H21zM84 841h21v21H84zM168 841h63v21H168zM442 841h21v21H442zM589 841h21v21H589zM21 862h21v21H21zM84 862h42v21H84zM589 862h21v21H589zM0 883h21v21H0zM147 883h21v21H147zM442 883h42v21H442zM42 904h21v21H42zM126 904h21v21H126zM273 904h21v21H273zM21 925h42v21H21zM126 925h21v21H126zM252 925h21v21H252zM147 946h21v21H147z"/>
<path fill="#974299" d="M252 0h21v21H252zM421 0h105v21H421zM231 21h42v21H231zM294 21h21v21H294zM484 21h21v21H484zM168 42h105v21H168zM315 42h21v21H315zM505 42h21v21H505zM126 63h21v21H126zM442 63h42v21H442zM42 84h42v21H42zM105 84h42v21H105zM189 84h42v21H189zM336 84h43v21H336zM400 84h42v21H400zM336 105h43v21H336zM505 105h42v21H505zM294 126h21v21H294zM336 126h43v21H336zM400 126h21v21H400zM168 147h42v21H168zM442 168h21v21H442zM42 189h21v21H42zM147 189h21v21H147zM189 189h63v21H189zM315 210h21v21H315zM315 231h21v21H315zM63 252h21v21H63zM105 252h21v21H105zM294 252h21v21H294zM294 273h21v21H294zM147 315h21v21H147zM210 315h21v21H210zM294 315h21v21H294zM105 483h21v22H105zM42 526h21v21H42zM294 547h21v21H294zM0 568h42v21H0zM63 568h21v21H63zM126 568h21v21H126zM126 589h42v21H126zM189 589h21v21H189zM84 610h21v21H84zM189 610h21v21H189zM273 610h21v21H273zM63 631h21v21H63zM147 631h21v21H147zM63 652h21v21H63zM21 673h21v21H21zM105 673h21v21H105zM63 694h63v21H63zM105 715h21v21H105zM273 715h21v21H273zM315 715h64v21H315zM84 736h42v21H84zM315 736h21v21H315zM357 736h43v21H357zM105 757h21v21H105zM210 757h21v21H210zM294 757h21v21H294zM631 757h21v21H631zM63 778h21v21H63zM105 778h21v21H105zM210 778h21v21H210zM315 778h42v21H315zM379 778h21v21H379zM105 799h21v21H105zM189 820h21v21H189zM589 820h21v21H589zM105 841h21v21H105zM336 841h21v21H336zM0 862h21v21H0zM210 862h21v21H210zM21 883h21v21H21zM84 883h21v21H84zM189 883h21v21H189zM0 904h42v21H0zM84 904h21v21H84zM147 904h63v21H147zM231 904h21v21H231zM105 925h21v21H105zM273 925h21v21H273zM273 946h21v21H273z"/>
<path fill="#85319a" d="M294 0h21v21H294zM547 0h21v21H547zM210 21h21v21H210zM379 21h21v21H379zM484 42h21v21H484zM273 63h42v21H273zM568 63h21v21H568zM568 84h21v21H568zM442 105h63v21H442zM126 126h21v21H126zM168 126h21v21H168zM21 147h21v21H21zM63 147h21v21H63zM105 147h21v21H105zM273 147h21v21H273zM315 147h21v21H315zM63 168h21v21H63zM105 168h21v21H105zM336 168h21v21H336zM63 189h21v21H63zM105 189h21v21H105zM336 189h21v21H336zM0 210h21v21H0zM63 210h21v21H63zM189 210h21v21H189zM231 210h21v21H231zM21 231h21v21H21zM294 231h21v21H294zM400 231h21v21H400zM21 252h21v21H21zM168 252h21v21H168zM379 252h21v21H379zM21 273h42v21H21zM189 273h21v21H189zM252 273h42v21H252zM189 294h21v21H189zM231 315h21v21H231zM315 315h21v21H315zM21 483h21v22H21zM84 526h21v21H84zM147 526h21v21H147zM231 526h21v21H231zM21 547h21v21H21zM168 547h42v21H168zM315 547h42v21H315zM42 568h21v21H42zM189 568h21v21H189zM231 568h21v21H231zM42 589h21v21H42zM0 610h63v21H0zM168 631h21v21H168zM252 631h21v21H252zM21 652h21v21H21zM42 673h21v21H42zM231 694h21v21H231zM0 736h21v21H0zM210 736h42v21H210zM126 778h21v21H126zM21 799h42v21H21zM63 820h21v21H63zM484 820h21v21H484zM463 841h21v21H463zM505 841h84v21H505zM463 862h42v21H463zM547 862h42v21H547zM547 883h42v21H547zM568 904h21v21H568zM231 925h21v21H231zM568 925h21v21H568zM84 946h21v21H84zM168 946h21v21H168zM463 946h63v21H463zM568 946h21v21H568z"/>
<path fill="#9d4898" d="M400 0h21v21H400zM421 21h21v21H421zM463 42h21v21H463zM589 63h21v21H589zM147 84h21v21H147zM442 84h42v21H442zM189 105h21v21H189zM568 105h21v21H568zM189 126h21v21H189zM357 147h22v21H357zM126 168h21v21H126zM357 168h43v21H357zM463 168h21v21H463zM126 189h21v21H126zM357 189h43v21H357zM42 210h21v21H42zM126 231h21v21H126zM273 231h21v21H273zM273 252h21v21H273zM252 294h63v21H252zM168 315h42v21H168zM400 315h21v21H400zM126 483h21v22H126zM105 526h21v21H105zM0 547h21v21H0zM42 547h21v21H42zM105 547h21v21H105zM231 547h21v21H231zM84 568h21v21H84zM147 568h21v21H147zM84 589h21v21H84zM105 610h21v21H105zM273 631h21v21H273zM84 652h63v21H84zM126 673h21v21H126zM63 715h42v21H63zM294 715h21v21H294zM21 736h21v21H21zM294 736h21v21H294zM589 736h21v21H589zM0 757h21v21H0zM42 757h42v21H42zM357 757h43v21H357zM421 757h21v21H421zM21 778h42v21H21zM231 778h42v21H231zM294 778h21v21H294zM631 778h21v21H631zM210 799h42v21H210zM273 799h127v21H273zM463 799h42v21H463zM0 820h21v21H0zM126 820h42v21H126zM210 820h42v21H210zM315 820h42v21H315zM379 820h21v21H379zM126 841h42v21H126zM231 841h21v21H231zM357 841h22v21H357zM126 862h21v21H126zM189 862h21v21H189zM231 862h21v21H231zM421 862h21v21H421zM63 883h21v21H63zM105 883h21v21H105zM210 883h21v21H210zM400 883h42v21H400zM484 883h42v21H484zM589 883h21v21H589zM105 904h21v21H105zM210 904h21v21H210zM252 904h21v21H252zM379 904h21v21H379zM505 904h21v21H505zM589 904h21v21H589zM0 925h21v21H0zM210 925h21v21H210zM589 925h21v21H589zM0 946h63v21H0zM105 946h42v21H105zM210 946h63v21H210zM379 946h21v21H379zM589 946h21v21H589z"/>
<path fill="#b05997" d="M610 0h42v21H610zM631 21h42v21H631zM484 126h42v21H484zM568 126h21v21H568zM484 147h21v21H484zM505 168h21v21H505zM442 273h21v21H442zM379 568h21v21H379zM421 568h21v21H421zM357 589h43v21H357zM273 652h21v21H273zM336 694h64v21H336zM442 694h21v21H442zM631 694h42v21H631zM484 715h21v21H484zM526 715h63v21H526zM442 736h105v21H442zM442 757h21v21H442zM505 778h105v21H505zM252 799h21v21H252zM400 799h21v21H400zM526 799h21v21H526zM400 820h42v21H400zM252 841h42v21H252zM610 841h21v21H610zM273 862h21v21H273zM336 862h21v21H336zM294 883h63v21H294zM610 883h21v21H610zM315 904h21v21H315zM147 925h21v21H147zM379 925h21v21H379z"/>
<path fill="#bc6496" d="M694 0h21v21H694zM694 21h21v21H694zM610 42h21v21H610zM652 42h21v21H652zM694 42h21v21H694zM694 63h21v21H694zM694 84h21v21H694zM610 105h21v21H610zM694 105h21v21H694zM694 126h21v21H694zM694 147h21v21H694zM526 168h42v21H526zM694 168h21v21H694zM463 189h42v21H463zM694 189h21v21H694zM694 210h21v21H694zM694 231h21v21H694zM463 252h21v21H463zM526 252h21v21H526zM694 252h21v21H694zM568 273h21v21H568zM694 273h21v21H694zM0 294h63v21H0zM442 294h21v21H442zM631 294h21v21H631zM694 294h21v21H694zM0 315h147v21H0zM421 315h21v21H421zM694 315h21v21H694zM0 336h273v21H0zM694 336h21v21H694zM0 357h379v21H0zM421 357h21v21H421zM694 357h21v21H694zM0 378h484v21H0zM694 378h21v21H694zM0 399h568v21H0zM694 399h21v21H694zM0 420h715v21H0zM0 441h715v21H0zM0 462h715v21H0zM168 483h547v22H168zM168 505h547v21H168zM379 526h336v21H379zM379 547h336v21H379zM400 568h21v21H400zM442 568h21v21H442zM589 568h126v21H589zM421 589h42v21H421zM589 589h126v21H589zM694 610h21v21H694zM694 631h21v21H694zM694 652h21v21H694zM610 673h21v21H610zM694 673h21v21H694zM421 694h21v21H421zM484 694h42v21H484zM610 694h21v21H610zM694 694h21v21H694zM694 715h21v21H694zM547 736h21v21H547zM694 736h21v21H694zM589 757h21v21H589zM652 757h21v21H652zM694 757h21v21H694zM652 778h21v21H652zM694 778h21v21H694zM673 799h42v21H673zM694 820h21v21H694zM694 841h21v21H694zM694 862h21v21H694zM694 883h21v21H694zM610 904h21v21H610zM694 904h21v21H694zM610 925h21v21H610zM694 925h21v21H694zM694 946h21v21H694z"/>
<path fill="#1818ff" d="M0 21h21v21H0z"/>
<path fill="#6868ff" d="M42 21h21v21H42zM0 42h42v21H0zM0 84h21v21H0z"/>
<path fill="#79269b" d="M547 21h21v21H547zM526 42h21v21H526zM547 63h21v21H547zM273 84h21v21H273zM273 105h21v21H273zM21 126h21v21H21zM273 126h21v21H273zM421 147h21v21H421zM21 168h21v21H21zM421 168h21v21H421zM84 189h21v21H84zM84 210h21v21H84zM168 231h42v21H168zM421 231h21v21H421zM357 252h22v21H357zM400 252h21v21H400zM336 273h21v21H336zM126 294h21v21H126zM336 294h21v21H336zM336 315h64v21H336zM336 336h43v21H336zM168 526h63v21H168zM63 589h21v21H63zM0 631h21v21H0zM231 631h21v21H231zM231 652h21v21H231zM147 673h21v21H147zM210 673h21v21H210zM0 694h21v21H0zM126 715h63v21H126zM126 736h21v21H126zM252 757h21v21H252zM63 799h21v21H63zM42 820h21v21H42zM42 841h21v21H42zM526 925h42v21H526z"/>
<path fill="#a44d98" d="M610 21h21v21H610zM273 42h42v21H273zM631 42h21v21H631zM589 84h21v21H589zM379 105h21v21H379zM379 126h21v21H379zM210 210h21v21H210zM273 336h21v21H273zM147 547h21v21H147zM168 568h21v21H168zM210 568h21v21H210zM336 589h21v21H336zM126 610h42v21H126zM105 631h42v21H105zM252 673h21v21H252zM252 694h21v21H252zM42 715h21v21H42zM252 715h21v21H252zM400 715h21v21H400zM463 715h21v21H463zM589 715h63v21H589zM42 736h42v21H42zM568 736h21v21H568zM610 736h42v21H610zM568 757h21v21H568zM357 778h22v21H357zM400 778h21v21H400zM568 799h42v21H568zM631 799h21v21H631zM357 820h22v21H357zM442 820h21v21H442zM0 841h21v21H0zM294 841h42v21H294zM147 862h42v21H147zM294 862h42v21H294zM168 883h21v21H168zM231 883h63v21H231zM336 904h43v21H336zM421 904h84v21H421zM168 925h42v21H168zM315 925h64v21H315zM189 946h21v21H189zM357 946h22v21H357zM400 946h21v21H400z"/>
<path fill="#b65e96" d="M673 21h21v21H673zM610 63h84v21H610zM610 84h21v21H610zM589 126h21v21H589zM505 147h105v21H505zM442 210h21v21H442zM547 252h21v21H547zM652 336h42v21H652zM463 589h21v21H463zM315 610h42v21H315zM294 631h21v21H294zM273 673h21v21H273zM631 673h42v21H631zM294 694h42v21H294zM400 694h21v21H400zM589 694h21v21H589zM505 715h21v21H505zM652 715h21v21H652zM652 736h21v21H652zM463 757h21v21H463zM547 799h21v21H547zM610 799h21v21H610zM652 799h21v21H652zM631 820h42v21H631zM652 841h21v21H652zM610 862h42v21H610zM400 925h21v21H400zM421 946h21v21H421zM610 946h21v21H610z"/>
<path fill="#8888ff" d="M0 63h42v21H0z"/>
<path fill="#9898ff" d="M21 84h21v21H21z"/>
<path fill="#bc5e90" d="M631 84h42v21H631zM631 105h42v21H631zM673 147h21v21H673zM568 168h42v21H568zM463 210h42v21H463zM463 231h21v21H463zM547 231h42v21H547zM484 252h21v21H484zM568 252h21v21H568zM610 252h21v21H610zM463 273h42v21H463zM610 273h21v21H610zM463 294h21v21H463zM673 294h21v21H673zM442 315h42v21H442zM568 315h42v21H568zM631 315h63v21H631zM421 336h42v21H421zM379 357h21v21H379zM442 357h21v21H442zM505 357h21v21H505zM673 357h21v21H673zM673 378h21v21H673zM484 589h21v21H484zM357 610h22v21H357zM421 610h21v21H421zM463 610h21v21H463zM315 631h21v21H315zM631 631h21v21H631zM610 652h63v21H610zM442 673h21v21H442zM589 673h21v21H589zM463 694h21v21H463zM526 694h63v21H526zM673 736h21v21H673zM673 757h21v21H673zM673 778h21v21H673zM673 820h21v21H673zM673 862h21v21H673zM631 946h21v21H631z"/>
<path fill="#c0487c" d="M673 84h21v21H673zM673 189h21v21H673zM505 210h63v21H505zM589 231h21v21H589zM505 252h21v21H505zM526 273h42v21H526zM589 273h21v21H589zM652 273h21v21H652zM652 294h21v21H652zM547 336h42v21H547zM547 357h21v21H547zM631 357h21v21H631zM652 399h21v21H652zM379 610h42v21H379zM526 610h21v21H526zM589 610h21v21H589zM673 610h21v21H673zM336 631h21v21H336zM442 631h42v21H442zM526 631h21v21H526zM589 631h21v21H589zM294 652h232v21H294zM294 673h63v21H294zM652 883h21v21H652z"/>
<path fill="#4848ff" d="M0 105h21v21H0zM0 126h21v21H0z"/>
<path fill="#6d1a9c" d="M252 105h21v21H252zM252 126h21v21H252zM252 210h21v21H252zM168 652h21v21H168zM168 673h21v21H168zM0 715h21v21H0z"/>
<path fill="#be5084" d="M673 105h21v21H673zM610 126h21v21H610zM673 126h21v21H673zM610 147h42v21H610zM547 189h63v21H547zM631 189h42v21H631zM568 210h42v21H568zM673 210h21v21H673zM526 231h21v21H526zM610 231h21v21H610zM673 252h21v21H673zM505 273h21v21H505zM589 294h21v21H589zM484 336h21v21H484zM589 336h42v21H589zM400 357h21v21H400zM547 378h126v21H547zM484 610h21v21H484zM547 610h42v21H547zM631 610h42v21H631zM357 631h43v21H357zM547 631h42v21H547zM652 631h42v21H652zM547 652h21v21H547zM673 652h21v21H673zM357 673h22v21H357zM484 673h42v21H484zM673 694h21v21H673zM652 862h21v21H652zM631 883h21v21H631zM631 904h42v21H631zM631 925h21v21H631zM652 946h21v21H652z"/>
<path fill="#be588a" d="M631 126h42v21H631zM652 147h21v21H652zM610 168h84v21H610zM505 189h42v21H505zM610 189h21v21H610zM610 210h63v21H610zM484 231h42v21H484zM631 231h63v21H631zM589 252h21v21H589zM631 252h42v21H631zM631 273h21v21H631zM673 273h21v21H673zM484 294h105v21H484zM610 294h21v21H610zM484 315h84v21H484zM610 315h21v21H610zM463 336h21v21H463zM505 336h42v21H505zM631 336h21v21H631zM463 357h42v21H463zM526 357h21v21H526zM652 357h21v21H652zM526 378h21v21H526zM673 399h21v21H673zM505 589h63v21H505zM442 610h21v21H442zM505 610h21v21H505zM610 610h21v21H610zM610 631h21v21H610zM526 652h21v21H526zM568 652h42v21H568zM379 673h21v21H379zM463 673h21v21H463zM526 673h63v21H526zM673 673h21v21H673zM673 715h21v21H673zM673 841h21v21H673zM673 883h21v21H673z"/>
<path fill="#7878ff" d="M0 168h21v21H0zM0 189h21v21H0z"/>
<path fill="#c03e70" d="M568 357h63v21H568zM631 399h21v21H631zM421 631h21v21H421zM484 631h42v21H484zM400 673h42v21H400zM673 904h21v21H673zM652 925h21v21H652zM673 946h21v21H673z"/>
<path fill="#c03264" d="M484 378h42v21H484zM400 631h21v21H400zM673 925h21v21H673z"/>
<path fill="#c81c4a" d="M568 399h21v21H568z"/>
<path fill="#c41242" d="M589 399h21v21H589z"/>
<path fill="#c00a38" d="M610 399h21v21H610z"/>
<path fill="#b96196" d="M252 526h127v21H252zM357 547h22v21H357z"/>
<path fill="#c02456" d="M463 568h63v21H463z"/>
<path fill="#c01446" d="M526 568h42v21H526z"/>
<path fill="#c00838" d="M568 568h21v21H568zM568 589h21v21H568z"/>
<path d="M168 494.5H211a3 3 0 0 1 3 3V526" fill="none" stroke="#a85a8c" stroke-opacity="0.55" stroke-width="1.6" shape-rendering="auto"/>
<g fill="#000" shape-rendering="auto"><circle cx="641.3" cy="17.4" r="1.55"/><circle cx="662.2" cy="22.4" r="1.55"/><circle cx="633.3" cy="32.5" r="1.55"/><circle cx="620.5" cy="40.5" r="1.55"/><circle cx="641.3" cy="41.2" r="1.55"/><circle cx="606.4" cy="53.4" r="1.55"/><circle cx="634.4" cy="53.4" r="1.55"/><circle cx="646.4" cy="53.4" r="1.55"/><circle cx="641.3" cy="60.5" r="1.55"/><circle cx="615.4" cy="74.4" r="1.55"/><circle cx="610.4" cy="95.3" r="1.55"/><circle cx="599.3" cy="114.4" r="1.55"/><circle cx="597.3" cy="116.2" r="1.55"/><circle cx="578.2" cy="134.4" r="1.55"/><circle cx="573.3" cy="137.4" r="1.55"/><circle cx="557.2" cy="144.3" r="1.55"/><circle cx="536.5" cy="144.3" r="1.55"/><circle cx="525.3" cy="137.4" r="1.55"/><circle cx="515.4" cy="133.4" r="1.55"/><circle cx="506.2" cy="137.4" r="1.55"/><circle cx="498.2" cy="158.4" r="1.55"/><circle cx="506.2" cy="179.1" r="1.55"/><circle cx="494.4" cy="183.4" r="1.55"/><circle cx="473.5" cy="190.4" r="1.55"/><circle cx="459.5" cy="200.3" r="1.55"/><circle cx="452.4" cy="209.3" r="1.55"/><circle cx="448.5" cy="221.4" r="1.55"/><circle cx="452.4" cy="237.4" r="1.55"/><circle cx="453.5" cy="242.5" r="1.55"/><circle cx="459.5" cy="263.4" r="1.55"/><circle cx="453.3" cy="284.6" r="1.55"/><circle cx="452.2" cy="287.5" r="1.55"/><circle cx="435.5" cy="305.5" r="1.55"/><circle cx="431.3" cy="308.4" r="1.55"/><circle cx="420.4" cy="326.4" r="1.55"/><circle cx="415.3" cy="347.3" r="1.55"/><circle cx="360.5" cy="599.3" r="1.55"/><circle cx="346.2" cy="608.4" r="1.55"/><circle cx="325.3" cy="612.6" r="1.55"/><circle cx="312.5" cy="620.4" r="1.55"/><circle cx="304.5" cy="628.4" r="1.55"/><circle cx="294.2" cy="641.4" r="1.55"/><circle cx="283.3" cy="657.4" r="1.55"/><circle cx="281.3" cy="662.5" r="1.55"/><circle cx="272.5" cy="683.3" r="1.55"/><circle cx="283.1" cy="703.3" r="1.55"/><circle cx="285.5" cy="704.4" r="1.55"/><circle cx="304.5" cy="718.5" r="1.55"/><circle cx="325.3" cy="713.4" r="1.55"/><circle cx="346.4" cy="708.4" r="1.55"/><circle cx="357.3" cy="704.4" r="1.55"/><circle cx="368.5" cy="702.3" r="1.55"/><circle cx="385.3" cy="704.4" r="1.55"/><circle cx="389.3" cy="705.4" r="1.55"/><circle cx="410.2" cy="711.3" r="1.55"/><circle cx="431.4" cy="722.5" r="1.55"/><circle cx="452.3" cy="710.5" r="1.55"/><circle cx="473.3" cy="716.6" r="1.55"/><circle cx="494.4" cy="723.3" r="1.55"/><circle cx="497.3" cy="725.4" r="1.55"/><circle cx="515.4" cy="743.5" r="1.55"/><circle cx="536.5" cy="733.4" r="1.55"/><circle cx="546.4" cy="725.4" r="1.55"/><circle cx="557.0" cy="724.5" r="1.55"/><circle cx="578.5" cy="720.4" r="1.55"/><circle cx="599.4" cy="708.3" r="1.55"/><circle cx="620.4" cy="717.3" r="1.55"/><circle cx="641.4" cy="707.3" r="1.55"/><circle cx="658.4" cy="725.3" r="1.55"/><circle cx="659.4" cy="746.4" r="1.55"/><circle cx="655.3" cy="767.4" r="1.55"/><circle cx="654.4" cy="788.4" r="1.55"/><circle cx="662.5" cy="808.4" r="1.55"/><circle cx="662.5" cy="812.6" r="1.55"/><circle cx="643.3" cy="830.5" r="1.55"/><circle cx="641.4" cy="833.3" r="1.55"/><circle cx="620.4" cy="843.5" r="1.55"/><circle cx="615.4" cy="851.3" r="1.55"/><circle cx="611.5" cy="872.5" r="1.55"/><circle cx="617.3" cy="893.4" r="1.55"/><circle cx="609.3" cy="914.4" r="1.55"/><circle cx="610.3" cy="935.4" r="1.55"/><circle cx="617.3" cy="956.4" r="1.55"/></g>
</svg>
</body></html>
